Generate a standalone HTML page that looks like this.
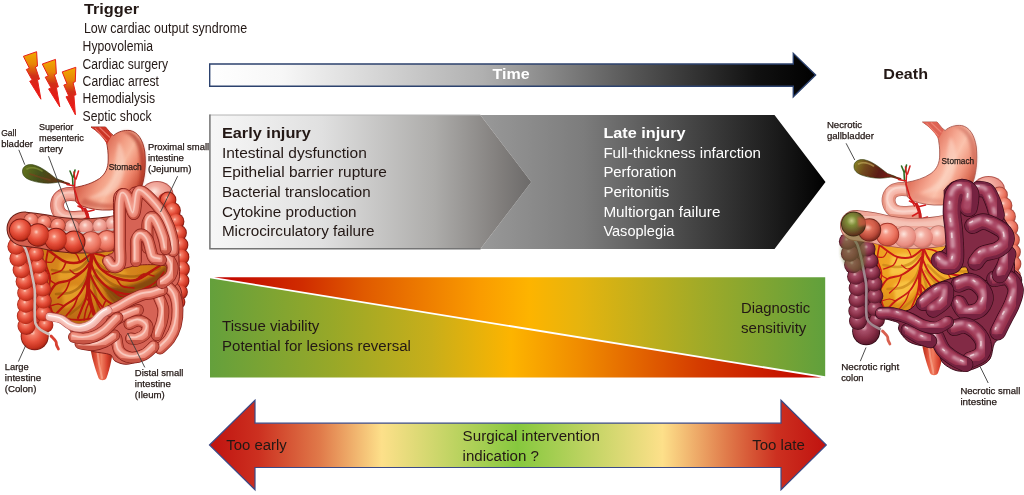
<!DOCTYPE html>
<html lang="en">
<head>
<meta charset="utf-8">
<title>Mesenteric ischemia timeline</title>
<style>
html,body{margin:0;padding:0;background:#fff;}
body{width:1024px;height:495px;overflow:hidden;}
svg{display:block;}
text{font-family:"Liberation Sans",sans-serif;}
.b{font-weight:bold;}
.t{fill:#231815;}
.w{fill:#fff;}
.lab{fill:#231815;stroke:#231815;stroke-width:0.25px;}
</style>
</head>
<body>
<svg width="1024" height="495" viewBox="0 0 1024 495">
<defs>
<linearGradient id="gTime" x1="209" x2="817" y1="0" y2="0" gradientUnits="userSpaceOnUse">
<stop offset="0" stop-color="#ffffff"/><stop offset="0.12" stop-color="#f7f7f7"/><stop offset="0.45" stop-color="#b0b0b0"/><stop offset="0.7" stop-color="#555"/><stop offset="0.9" stop-color="#111"/><stop offset="1" stop-color="#000"/>
</linearGradient>
<linearGradient id="gEarly" x1="209" x2="531" y1="0" y2="0" gradientUnits="userSpaceOnUse">
<stop offset="0" stop-color="#f7f7f7"/><stop offset="0.35" stop-color="#e0e0e0"/><stop offset="0.7" stop-color="#adacaa"/><stop offset="0.9" stop-color="#827f7d"/><stop offset="1" stop-color="#6c6a69"/>
</linearGradient>
<linearGradient id="gLate" x1="480" x2="826" y1="0" y2="0" gradientUnits="userSpaceOnUse">
<stop offset="0" stop-color="#999"/><stop offset="0.3" stop-color="#7c7c7c"/><stop offset="0.6" stop-color="#474747"/><stop offset="0.85" stop-color="#1c1c1c"/><stop offset="1" stop-color="#000"/>
</linearGradient>
<linearGradient id="gGR" x1="210" x2="825" y1="0" y2="0" gradientUnits="userSpaceOnUse">
<stop offset="0" stop-color="#64a03c"/><stop offset="0.2" stop-color="#98a828"/><stop offset="0.36" stop-color="#c8ae1a"/><stop offset="0.49" stop-color="#fdb400"/><stop offset="0.6" stop-color="#f08c00"/><stop offset="0.8" stop-color="#d43a00"/><stop offset="1" stop-color="#c00000"/>
</linearGradient>
<linearGradient id="gRG" x1="210" x2="825" y1="0" y2="0" gradientUnits="userSpaceOnUse">
<stop offset="0" stop-color="#c00000"/><stop offset="0.15" stop-color="#d02c00"/><stop offset="0.25" stop-color="#e05a00"/><stop offset="0.44" stop-color="#fa9c00"/><stop offset="0.52" stop-color="#fdb400"/><stop offset="0.6" stop-color="#e6b40e"/><stop offset="0.8" stop-color="#a0aa28"/><stop offset="1" stop-color="#60a03c"/>
</linearGradient>
<linearGradient id="gSurg" x1="209" x2="826" y1="0" y2="0" gradientUnits="userSpaceOnUse">
<stop offset="0" stop-color="#c0120f"/><stop offset="0.08" stop-color="#cc3020"/><stop offset="0.18" stop-color="#e07a4a"/><stop offset="0.28" stop-color="#fde08a"/><stop offset="0.5" stop-color="#86c83e"/><stop offset="0.735" stop-color="#fde08a"/><stop offset="0.84" stop-color="#e07a4a"/><stop offset="0.92" stop-color="#cc3020"/><stop offset="1" stop-color="#c0120f"/>
</linearGradient>
<radialGradient id="hR" cx="0.42" cy="0.36" r="0.7"><stop offset="0" stop-color="#fcd0c2"/><stop offset="0.16" stop-color="#f4826c"/><stop offset="0.5" stop-color="#e6503b"/><stop offset="0.82" stop-color="#c6321f"/><stop offset="1" stop-color="#8e1e12"/></radialGradient>
<radialGradient id="hPR" cx="0.42" cy="0.36" r="0.7"><stop offset="0" stop-color="#fddcd2"/><stop offset="0.22" stop-color="#f69a88"/><stop offset="0.65" stop-color="#ea705c"/><stop offset="1" stop-color="#c04836"/></radialGradient>
<radialGradient id="hP" cx="0.42" cy="0.36" r="0.7"><stop offset="0" stop-color="#fde6de"/><stop offset="0.3" stop-color="#f4b0a4"/><stop offset="0.75" stop-color="#e88c80"/><stop offset="1" stop-color="#c4665a"/></radialGradient>
<radialGradient id="hN" cx="0.42" cy="0.36" r="0.7"><stop offset="0" stop-color="#e0b0ba"/><stop offset="0.2" stop-color="#a8506a"/><stop offset="0.6" stop-color="#882e46"/><stop offset="1" stop-color="#501426"/></radialGradient>
<radialGradient id="hNg" cx="0.42" cy="0.36" r="0.7"><stop offset="0" stop-color="#c8cc88"/><stop offset="0.3" stop-color="#7e8c38"/><stop offset="0.65" stop-color="#6a5a2a"/><stop offset="1" stop-color="#5a2018"/></radialGradient>
<radialGradient id="hNr" cx="0.42" cy="0.36" r="0.7"><stop offset="0" stop-color="#f8c8b8"/><stop offset="0.3" stop-color="#e0705a"/><stop offset="0.7" stop-color="#b84838"/><stop offset="1" stop-color="#6a2018"/></radialGradient>
<radialGradient id="mes" cx="0.4" cy="0.3" r="0.8"><stop offset="0" stop-color="#e29422"/><stop offset="0.5" stop-color="#d07e18"/><stop offset="1" stop-color="#b05e0e"/></radialGradient>
<radialGradient id="mesR" cx="0.45" cy="0.3" r="0.8"><stop offset="0" stop-color="#f8bc3a"/><stop offset="0.5" stop-color="#eea020"/><stop offset="1" stop-color="#cc7e14"/></radialGradient>
<linearGradient id="stL" x1="100" y1="150" x2="147" y2="176" gradientUnits="userSpaceOnUse"><stop offset="0" stop-color="#da6650"/><stop offset="0.3" stop-color="#f29c82"/><stop offset="0.5" stop-color="#f8b69c"/><stop offset="0.72" stop-color="#ee866c"/><stop offset="0.9" stop-color="#d25a42"/><stop offset="1" stop-color="#ac3826"/></linearGradient>
<linearGradient id="stR" x1="100" y1="150" x2="147" y2="176" gradientUnits="userSpaceOnUse"><stop offset="0" stop-color="#e27660"/><stop offset="0.3" stop-color="#f6a892"/><stop offset="0.5" stop-color="#fbc2ac"/><stop offset="0.72" stop-color="#f29a82"/><stop offset="0.9" stop-color="#dc6e56"/><stop offset="1" stop-color="#b84a36"/></linearGradient>
<linearGradient id="gbL" x1="22" y1="166" x2="62" y2="184" gradientUnits="userSpaceOnUse"><stop offset="0" stop-color="#66761e"/><stop offset="0.45" stop-color="#44501a"/><stop offset="0.8" stop-color="#5a3a18"/><stop offset="1" stop-color="#74301a"/></linearGradient>
<linearGradient id="gbR" x1="22" y1="166" x2="62" y2="184" gradientUnits="userSpaceOnUse"><stop offset="0" stop-color="#8a8a28"/><stop offset="0.3" stop-color="#70481c"/><stop offset="0.65" stop-color="#5a1a14"/><stop offset="1" stop-color="#8a2418"/></linearGradient>
<linearGradient id="rec" x1="90" y1="0" x2="113" y2="0" gradientUnits="userSpaceOnUse"><stop offset="0" stop-color="#a82414"/><stop offset="0.28" stop-color="#e4553c"/><stop offset="0.5" stop-color="#f07c5e"/><stop offset="0.75" stop-color="#d8422e"/><stop offset="1" stop-color="#98200f"/></linearGradient>
<linearGradient id="bolt" x1="0" y1="52" x2="0" y2="100" gradientUnits="userSpaceOnUse"><stop offset="0" stop-color="#f0aa00"/><stop offset="0.25" stop-color="#e88608"/><stop offset="0.5" stop-color="#d03018"/><stop offset="0.7" stop-color="#e02018"/><stop offset="1" stop-color="#f41414"/></linearGradient>
<filter id="soft" x="-5%" y="-5%" width="110%" height="110%"><feGaussianBlur stdDeviation="0.6"/></filter>
<filter id="soft1" x="-10%" y="-10%" width="120%" height="120%"><feGaussianBlur stdDeviation="1"/></filter>
<filter id="soft2" x="-30%" y="-30%" width="160%" height="160%"><feGaussianBlur stdDeviation="1.6"/></filter>
</defs>

<!-- ===== illustrations ===== -->
<g id="organL">
<g filter="url(#soft)">
<path d="M42.0 246.0C47.0 241.0 60.3 249.3 70.0 250.0C79.7 250.7 91.0 250.7 100.0 250.0C109.0 249.3 119.7 244.0 124.0 246.0C128.3 248.0 121.7 259.3 126.0 262.0C130.3 264.7 142.7 261.3 150.0 262.0C157.3 262.7 166.3 260.3 170.0 266.0C173.7 271.7 175.3 288.3 172.0 296.0C168.7 303.7 158.7 307.7 150.0 312.0C141.3 316.3 130.0 320.0 120.0 322.0C110.0 324.0 99.7 324.0 90.0 324.0C80.3 324.0 69.3 324.0 62.0 322.0C54.7 320.0 49.7 319.0 46.0 312.0C42.3 305.0 40.7 291.0 40.0 280.0C39.3 269.0 37.0 251.0 42.0 246.0Z" fill="url(#mes)"/>
<path d="M104 286C124 290 150 282 168 264C166 284 150 302 122 308C112 304 106 296 104 286Z" fill="#7a400a" opacity="0.85" filter="url(#soft2)"/>
<path d="M60 262C70 256 82 258 86 266C80 276 68 282 58 280Z" fill="#eca82e" opacity="0.7" filter="url(#soft2)"/>
<path d="M62 290C72 284 80 284 84 290C80 300 72 308 64 308Z" fill="#eca82e" opacity="0.7" filter="url(#soft2)"/>
<path d="M100 262C112 262 122 268 128 274C118 278 106 274 100 268Z" fill="#eca82e" opacity="0.7" filter="url(#soft2)"/>
<path d="M90.0 258.0C88.3 259.7 84.0 265.7 80.0 268.0C76.0 270.3 70.7 271.7 66.0 272.0C61.3 272.3 54.3 270.3 52.0 270.0" fill="none" stroke="#9a560c" stroke-width="2.6" stroke-linecap="round" stroke-linejoin="round" opacity="0.6"/>
<path d="M90.0 266.0C89.0 268.7 87.0 277.7 84.0 282.0C81.0 286.3 76.7 290.0 72.0 292.0C67.3 294.0 58.7 293.7 56.0 294.0" fill="none" stroke="#9a560c" stroke-width="2.6" stroke-linecap="round" stroke-linejoin="round" opacity="0.6"/>
<path d="M90.0 274.0C89.7 277.0 89.3 287.0 88.0 292.0C86.7 297.0 85.0 300.3 82.0 304.0C79.0 307.7 72.0 312.3 70.0 314.0" fill="none" stroke="#9a560c" stroke-width="2.6" stroke-linecap="round" stroke-linejoin="round" opacity="0.6"/>
<path d="M92.0 280.0C92.7 282.7 95.0 291.3 96.0 296.0C97.0 300.7 97.7 304.3 98.0 308.0C98.3 311.7 98.0 316.3 98.0 318.0" fill="none" stroke="#9a560c" stroke-width="2.6" stroke-linecap="round" stroke-linejoin="round" opacity="0.6"/>
<path d="M94.0 276.0C96.0 278.3 102.3 286.0 106.0 290.0C109.7 294.0 113.0 297.0 116.0 300.0C119.0 303.0 122.7 306.7 124.0 308.0" fill="none" stroke="#9a560c" stroke-width="2.6" stroke-linecap="round" stroke-linejoin="round" opacity="0.6"/>
<path d="M96.0 270.0C98.7 272.3 105.7 280.7 112.0 284.0C118.3 287.3 127.3 289.7 134.0 290.0C140.7 290.3 149.0 286.7 152.0 286.0" fill="none" stroke="#9a560c" stroke-width="2.6" stroke-linecap="round" stroke-linejoin="round" opacity="0.6"/>
<path d="M96.0 262.0C99.0 264.0 107.0 271.7 114.0 274.0C121.0 276.3 130.3 277.0 138.0 276.0C145.7 275.0 156.3 269.3 160.0 268.0" fill="none" stroke="#9a560c" stroke-width="2.6" stroke-linecap="round" stroke-linejoin="round" opacity="0.6"/>
<path d="M89.0 240.0C89.5 242.2 91.8 248.3 92.0 253.0C92.2 257.7 90.7 262.8 90.0 268.0C89.3 273.2 88.0 278.7 88.0 284.0C88.0 289.3 89.0 295.0 90.0 300.0C91.0 305.0 93.3 311.7 94.0 314.0" fill="none" stroke="#b81410" stroke-width="3.8" stroke-linecap="round" stroke-linejoin="round"/>
<path d="M92.0 253.0C90.0 254.5 84.3 260.5 80.0 262.0C75.7 263.5 70.0 263.0 66.0 262.0C62.0 261.0 59.0 258.0 56.0 256.0C53.0 254.0 49.3 251.0 48.0 250.0" fill="none" stroke="#b81410" stroke-width="2.4" stroke-linecap="round" stroke-linejoin="round"/>
<path d="M90.0 262.0C89.0 263.3 87.3 267.0 84.0 270.0C80.7 273.0 74.7 277.7 70.0 280.0C65.3 282.3 59.7 281.3 56.0 284.0C52.3 286.7 49.3 294.0 48.0 296.0" fill="none" stroke="#b81410" stroke-width="2.4" stroke-linecap="round" stroke-linejoin="round"/>
<path d="M89.0 272.0C88.5 273.7 87.8 278.0 86.0 282.0C84.2 286.0 81.7 292.0 78.0 296.0C74.3 300.0 67.7 303.0 64.0 306.0C60.3 309.0 57.3 312.7 56.0 314.0" fill="none" stroke="#b81410" stroke-width="2.2" stroke-linecap="round" stroke-linejoin="round"/>
<path d="M88.0 284.0C87.7 286.3 87.0 294.0 86.0 298.0C85.0 302.0 83.3 304.7 82.0 308.0C80.7 311.3 78.7 316.3 78.0 318.0" fill="none" stroke="#b81410" stroke-width="2.1" stroke-linecap="round" stroke-linejoin="round"/>
<path d="M92.0 253.0C93.3 255.5 96.0 263.8 100.0 268.0C104.0 272.2 110.0 276.0 116.0 278.0C122.0 280.0 129.3 281.7 136.0 280.0C142.7 278.3 151.0 271.0 156.0 268.0C161.0 265.0 164.3 263.0 166.0 262.0" fill="none" stroke="#b81410" stroke-width="2.5" stroke-linecap="round" stroke-linejoin="round"/>
<path d="M91.0 264.0C92.2 266.3 94.5 273.7 98.0 278.0C101.5 282.3 106.3 287.3 112.0 290.0C117.7 292.7 125.7 294.7 132.0 294.0C138.3 293.3 147.0 287.3 150.0 286.0" fill="none" stroke="#b81410" stroke-width="2.4" stroke-linecap="round" stroke-linejoin="round"/>
<path d="M90.0 274.0C91.0 276.0 93.3 281.7 96.0 286.0C98.7 290.3 102.0 296.7 106.0 300.0C110.0 303.3 115.0 305.7 120.0 306.0C125.0 306.3 133.3 302.7 136.0 302.0" fill="none" stroke="#b81410" stroke-width="2.2" stroke-linecap="round" stroke-linejoin="round"/>
<path d="M90.0 290.0C91.7 292.3 97.0 300.0 100.0 304.0C103.0 308.0 106.0 311.3 108.0 314.0C110.0 316.7 111.3 319.0 112.0 320.0" fill="none" stroke="#b81410" stroke-width="2.0" stroke-linecap="round" stroke-linejoin="round"/>
<path d="M92.0 253.0C94.0 253.5 100.7 254.5 104.0 256.0C107.3 257.5 109.3 261.0 112.0 262.0C114.7 263.0 118.7 262.0 120.0 262.0" fill="none" stroke="#b81410" stroke-width="2.0" stroke-linecap="round" stroke-linejoin="round"/>
<path d="M66.0 262.0C65.3 263.3 64.3 268.0 62.0 270.0C59.7 272.0 53.7 273.3 52.0 274.0" fill="none" stroke="#b81410" stroke-width="1.6" stroke-linecap="round" stroke-linejoin="round"/>
<path d="M70.0 280.0C69.3 281.7 68.0 287.0 66.0 290.0C64.0 293.0 59.3 296.7 58.0 298.0" fill="none" stroke="#b81410" stroke-width="1.6" stroke-linecap="round" stroke-linejoin="round"/>
<path d="M78.0 296.0C77.3 297.7 76.0 302.7 74.0 306.0C72.0 309.3 67.3 314.3 66.0 316.0" fill="none" stroke="#b81410" stroke-width="1.6" stroke-linecap="round" stroke-linejoin="round"/>
<path d="M56.0 284.0C55.0 283.3 51.7 282.3 50.0 280.0C48.3 277.7 46.7 271.7 46.0 270.0" fill="none" stroke="#b81410" stroke-width="1.5" stroke-linecap="round" stroke-linejoin="round"/>
<path d="M64.0 306.0C63.0 305.7 60.3 304.0 58.0 304.0C55.7 304.0 51.3 305.7 50.0 306.0" fill="none" stroke="#b81410" stroke-width="1.5" stroke-linecap="round" stroke-linejoin="round"/>
<path d="M86.0 298.0C87.0 299.3 91.7 302.7 92.0 306.0C92.3 309.3 88.7 316.0 88.0 318.0" fill="none" stroke="#b81410" stroke-width="1.5" stroke-linecap="round" stroke-linejoin="round"/>
<path d="M106.0 300.0C105.3 301.7 102.3 306.7 102.0 310.0C101.7 313.3 103.7 318.3 104.0 320.0" fill="none" stroke="#b81410" stroke-width="1.5" stroke-linecap="round" stroke-linejoin="round"/>
<path d="M120.0 306.0C120.7 307.0 122.3 311.0 124.0 312.0C125.7 313.0 129.0 312.0 130.0 312.0" fill="none" stroke="#b81410" stroke-width="1.5" stroke-linecap="round" stroke-linejoin="round"/>
<path d="M116.0 278.0C117.0 279.3 119.0 284.3 122.0 286.0C125.0 287.7 132.0 287.7 134.0 288.0" fill="none" stroke="#b81410" stroke-width="1.5" stroke-linecap="round" stroke-linejoin="round"/>
<path d="M136.0 280.0C137.3 279.0 141.0 274.7 144.0 274.0C147.0 273.3 152.3 275.7 154.0 276.0" fill="none" stroke="#b81410" stroke-width="1.5" stroke-linecap="round" stroke-linejoin="round"/>
<path d="M132.0 294.0C133.3 294.7 137.3 297.7 140.0 298.0C142.7 298.3 146.7 296.3 148.0 296.0" fill="none" stroke="#b81410" stroke-width="1.5" stroke-linecap="round" stroke-linejoin="round"/>
<path d="M56.0 256.0C55.3 257.0 53.7 261.0 52.0 262.0C50.3 263.0 47.0 262.0 46.0 262.0" fill="none" stroke="#b81410" stroke-width="1.4" stroke-linecap="round" stroke-linejoin="round"/>
<path d="M80.0 262.0C79.3 260.7 78.0 255.7 76.0 254.0C74.0 252.3 69.3 252.3 68.0 252.0" fill="none" stroke="#b81410" stroke-width="1.4" stroke-linecap="round" stroke-linejoin="round"/>
<path d="M48.0 250.0C47.7 252.3 45.7 259.3 46.0 264.0C46.3 268.7 49.7 272.7 50.0 278.0C50.3 283.3 47.7 290.3 48.0 296.0C48.3 301.7 51.3 309.3 52.0 312.0" fill="none" stroke="#b81410" stroke-width="1.9" stroke-linecap="round" stroke-linejoin="round"/>
<path d="M52.0 312.0C54.0 313.0 59.3 316.7 64.0 318.0C68.7 319.3 74.7 320.0 80.0 320.0C85.3 320.0 90.7 318.3 96.0 318.0C101.3 317.7 109.3 318.0 112.0 318.0" fill="none" stroke="#b81410" stroke-width="1.8" stroke-linecap="round" stroke-linejoin="round"/>
<path d="M90.0 300.0C89.3 301.7 87.0 306.7 86.0 310.0C85.0 313.3 84.3 318.3 84.0 320.0" fill="none" stroke="#b81410" stroke-width="1.5" stroke-linecap="round" stroke-linejoin="round"/>
<path d="M94.0 296.0C95.0 298.0 98.0 304.3 100.0 308.0C102.0 311.7 105.0 316.3 106.0 318.0" fill="none" stroke="#b81410" stroke-width="1.5" stroke-linecap="round" stroke-linejoin="round"/>
<path d="M84.0 270.0C82.7 270.7 78.3 274.0 76.0 274.0C73.7 274.0 71.0 270.7 70.0 270.0" fill="none" stroke="#b81410" stroke-width="1.4" stroke-linecap="round" stroke-linejoin="round"/>
<path d="M100.0 268.0C101.3 268.7 105.7 271.7 108.0 272.0C110.3 272.3 113.0 270.3 114.0 270.0" fill="none" stroke="#b81410" stroke-width="1.4" stroke-linecap="round" stroke-linejoin="round"/>
<path d="M112.0 290.0C113.3 291.0 117.3 295.0 120.0 296.0C122.7 297.0 126.7 296.0 128.0 296.0" fill="none" stroke="#b81410" stroke-width="1.4" stroke-linecap="round" stroke-linejoin="round"/>
<path d="M150.0 286.0C151.3 285.0 155.7 282.3 158.0 280.0C160.3 277.7 163.0 273.3 164.0 272.0" fill="none" stroke="#b81410" stroke-width="1.5" stroke-linecap="round" stroke-linejoin="round"/>
<ellipse cx="157" cy="195" rx="16.5" ry="14" fill="#b4564e"/>
<ellipse cx="157" cy="195" rx="15.6" ry="13.1" fill="url(#hP)"/>
<path d="M165.0 200.0C165.8 201.8 168.2 206.9 169.5 210.5C170.8 214.1 172.0 217.8 173.0 221.5C174.0 225.2 174.8 229.1 175.5 233.0C176.2 236.9 176.6 241.0 177.0 245.0C177.4 249.0 177.8 253.0 178.0 257.0C178.2 261.0 178.5 265.0 178.5 269.0C178.5 273.0 178.2 277.2 178.0 281.0C177.8 284.8 177.5 288.5 177.0 292.0C176.5 295.5 175.3 300.3 175.0 302.0" fill="none" stroke="#cc3a2c" stroke-width="14.0" stroke-linecap="round" stroke-linejoin="round"/>
<circle cx="168.0" cy="200.0" r="8.4" fill="#8a1c14"/>
<circle cx="172.5" cy="210.5" r="8.4" fill="#8a1c14"/>
<circle cx="176.0" cy="221.5" r="8.4" fill="#8a1c14"/>
<circle cx="178.5" cy="233.0" r="8.4" fill="#8a1c14"/>
<circle cx="180.0" cy="245.0" r="8.4" fill="#8a1c14"/>
<circle cx="181.0" cy="257.0" r="8.4" fill="#8a1c14"/>
<circle cx="181.5" cy="269.0" r="8.4" fill="#8a1c14"/>
<circle cx="181.0" cy="281.0" r="8.4" fill="#8a1c14"/>
<circle cx="180.0" cy="292.0" r="7.9" fill="#8a1c14"/>
<circle cx="178.0" cy="302.0" r="7.4" fill="#8a1c14"/>
<circle cx="168.0" cy="200.0" r="7.5" fill="url(#hR)"/>
<circle cx="172.5" cy="210.5" r="7.5" fill="url(#hR)"/>
<circle cx="176.0" cy="221.5" r="7.5" fill="url(#hR)"/>
<circle cx="178.5" cy="233.0" r="7.5" fill="url(#hR)"/>
<circle cx="180.0" cy="245.0" r="7.5" fill="url(#hR)"/>
<circle cx="181.0" cy="257.0" r="7.5" fill="url(#hR)"/>
<circle cx="181.5" cy="269.0" r="7.5" fill="url(#hR)"/>
<circle cx="181.0" cy="281.0" r="7.5" fill="url(#hR)"/>
<circle cx="180.0" cy="292.0" r="7.0" fill="url(#hR)"/>
<circle cx="178.0" cy="302.0" r="6.5" fill="url(#hR)"/>
<path d="M82.0 195.0C80.0 194.8 73.3 193.8 70.0 194.0C66.7 194.2 64.1 194.7 62.0 196.0C59.9 197.3 58.2 199.7 57.5 202.0C56.8 204.3 57.1 207.7 58.0 210.0C58.9 212.3 60.7 214.7 63.0 216.0C65.3 217.3 67.8 217.8 72.0 218.0C76.2 218.2 85.3 217.2 88.0 217.0" fill="none" stroke="#b04a44" stroke-width="13.9" stroke-linecap="butt" stroke-linejoin="round"/>
<path d="M82.0 195.0C80.0 194.8 73.3 193.8 70.0 194.0C66.7 194.2 64.1 194.7 62.0 196.0C59.9 197.3 58.2 199.7 57.5 202.0C56.8 204.3 57.1 207.7 58.0 210.0C58.9 212.3 60.7 214.7 63.0 216.0C65.3 217.3 67.8 217.8 72.0 218.0C76.2 218.2 85.3 217.2 88.0 217.0" fill="none" stroke="#e08272" stroke-width="12.5" stroke-linecap="butt" stroke-linejoin="round"/>
<path d="M82.0 195.0C80.0 194.8 73.3 193.8 70.0 194.0C66.7 194.2 64.1 194.7 62.0 196.0C59.9 197.3 58.2 199.7 57.5 202.0C56.8 204.3 57.1 207.7 58.0 210.0C58.9 212.3 60.7 214.7 63.0 216.0C65.3 217.3 67.8 217.8 72.0 218.0C76.2 218.2 85.3 217.2 88.0 217.0" fill="none" stroke="#f0a090" stroke-width="9.8" stroke-linecap="butt" stroke-linejoin="round" transform="translate(-0.6 -0.6)" filter="url(#soft)"/>
<path d="M82.0 195.0C80.0 194.8 73.3 193.8 70.0 194.0C66.7 194.2 64.1 194.7 62.0 196.0C59.9 197.3 58.2 199.7 57.5 202.0C56.8 204.3 57.1 207.7 58.0 210.0C58.9 212.3 60.7 214.7 63.0 216.0C65.3 217.3 67.8 217.8 72.0 218.0C76.2 218.2 85.3 217.2 88.0 217.0" fill="none" stroke="#f6b4a6" stroke-width="5.8" stroke-linecap="butt" stroke-linejoin="round" transform="translate(-0.9 -1.0)" filter="url(#soft1)"/>
<path d="M82.0 195.0C80.0 194.8 73.3 193.8 70.0 194.0C66.7 194.2 64.1 194.7 62.0 196.0C59.9 197.3 58.2 199.7 57.5 202.0C56.8 204.3 57.1 207.7 58.0 210.0C58.9 212.3 60.7 214.7 63.0 216.0C65.3 217.3 67.8 217.8 72.0 218.0C76.2 218.2 85.3 217.2 88.0 217.0" fill="none" stroke="#f9c8bc" stroke-width="2.0" stroke-linecap="butt" stroke-linejoin="round" transform="translate(-1.3 -1.4)" opacity="0.9" filter="url(#soft)"/>
<path d="M91 127L105.5 127C109 131 111 134 113.6 135.5C118 131.5 124 130 130 130.5C138 132 143 140 144.8 152C146 165 145 180 140 191C134 202 122 209 110 210C100 210.5 90 209 82 206L76 202L74 187.5C84 186 93 183 99.5 178.5C105.5 174 108.2 168 108.2 160C108.4 153 107.5 147 106.4 141.8C103 136 97 131 91 127Z" fill="url(#stL)" stroke="#8e2a20" stroke-width="0.9"/>
<path d="M122 131C135 130 143 140 144.5 154C146 168 144 182 138 194C141.5 178 141 160 138 148C135 139 130 134 122 131Z" fill="#a62c1c" opacity="0.65" filter="url(#soft2)"/>
<path d="M80 204C92 209 108 210 124 205C112 205 98 204 84 198Z" fill="#c04a38" opacity="0.55" filter="url(#soft2)"/>
<path d="M119 142C126 152 127 170 120 184C113 195 100 199 88 198C102 193 111 185 114 172C116 160 116 150 119 142Z" fill="#fcdccc" opacity="0.5" filter="url(#soft2)"/>
<path d="M91 127L105.5 127C108 130 110 133 112 135L107 144C103 137 97 131 91 127Z" fill="#cc3426"/>
<path d="M95 128L107 141M99.5 127.5L110 137.5" stroke="#f08a7a" stroke-width="1.1" fill="none" opacity="0.8"/>
<path d="M56 180L69 184" fill="none" stroke="#7a2a18" stroke-width="2.0" stroke-linecap="round" stroke-linejoin="round"/>
<path d="M22.5 172C22 166 28 163.5 34 165C42 167 50 174 56 178.5L64 181.5L56 182.5C48 184 38 183 30 180C25 178 22.8 175.5 22.5 172Z" fill="url(#gbL)" stroke="#2e3a10" stroke-width="0.6"/>
<path d="M27 169C31 166.5 37 168 42 171" fill="none" stroke="#8a9a3a" stroke-width="1.6" stroke-linecap="round" stroke-linejoin="round" opacity="0.6" filter="url(#soft)"/>
<path d="M30 174C36 176 42 178 50 180" fill="none" stroke="#8a3a20" stroke-width="1.6" stroke-linecap="round" stroke-linejoin="round" opacity="0.5" filter="url(#soft)"/>
<path d="M70 171L72.5 177L73 186M75 170L73.5 177" fill="none" stroke="#2e6a24" stroke-width="1.6" stroke-linecap="round" stroke-linejoin="round"/>
<path d="M74 172L75 180L74.5 189L78 201L83 211M78.5 171L76 179M74.5 186L67 184.5" fill="none" stroke="#d41c1c" stroke-width="1.5" stroke-linecap="round" stroke-linejoin="round"/>
<path d="M78 203L83 208L88 214L89.5 224L89.5 238M84 209L78 206M86 212L94 210M88 217L81 221M89 224L96 222" fill="none" stroke="#d41c1c" stroke-width="1.6" stroke-linecap="round" stroke-linejoin="round"/>
<path d="M85 209L88.5 219L89.5 236" fill="none" stroke="#cc1a1a" stroke-width="3.0" stroke-linecap="round" stroke-linejoin="round"/>
<path d="M24.5 238.0C25.1 241.3 26.8 251.8 28.0 258.0C29.2 264.2 30.4 268.8 31.5 275.0C32.6 281.2 34.2 288.3 34.8 295.0C35.3 301.7 34.6 309.2 34.8 315.0C35.0 320.8 35.8 327.5 36.0 330.0" fill="none" stroke="#7a1810" stroke-width="30.0" stroke-linecap="butt" stroke-linejoin="round"/>
<path d="M24.5 238.0C25.1 241.3 26.8 251.8 28.0 258.0C29.2 264.2 30.4 268.8 31.5 275.0C32.6 281.2 34.2 288.3 34.8 295.0C35.3 301.7 34.6 309.2 34.8 315.0C35.0 320.8 35.8 327.5 36.0 330.0" fill="none" stroke="#cc3a2c" stroke-width="28.0" stroke-linecap="butt" stroke-linejoin="round"/>
<circle cx="34.7" cy="336.3" r="14" fill="#7a1810"/>
<circle cx="34.7" cy="336.3" r="13.2" fill="url(#hR)"/>
<circle cx="26.5" cy="326.0" r="9.0" fill="#a82a1c"/>
<circle cx="25.8" cy="316.0" r="9.0" fill="#a82a1c"/>
<circle cx="26.0" cy="304.5" r="9.0" fill="#a82a1c"/>
<circle cx="26.2" cy="293.0" r="9.0" fill="#a82a1c"/>
<circle cx="24.6" cy="281.5" r="9.0" fill="#a82a1c"/>
<circle cx="21.6" cy="270.0" r="9.0" fill="#a82a1c"/>
<circle cx="18.4" cy="258.5" r="9.0" fill="#a82a1c"/>
<circle cx="16.4" cy="246.5" r="9.0" fill="#a82a1c"/>
<circle cx="26.5" cy="326.0" r="8.3" fill="url(#hR)"/>
<circle cx="25.8" cy="316.0" r="8.3" fill="url(#hR)"/>
<circle cx="26.0" cy="304.5" r="8.3" fill="url(#hR)"/>
<circle cx="26.2" cy="293.0" r="8.3" fill="url(#hR)"/>
<circle cx="24.6" cy="281.5" r="8.3" fill="url(#hR)"/>
<circle cx="21.6" cy="270.0" r="8.3" fill="url(#hR)"/>
<circle cx="18.4" cy="258.5" r="8.3" fill="url(#hR)"/>
<circle cx="16.4" cy="246.5" r="8.3" fill="url(#hR)"/>
<circle cx="45.5" cy="325.0" r="7.9" fill="#a82a1c"/>
<circle cx="43.5" cy="313.5" r="8.3" fill="#a82a1c"/>
<circle cx="43.5" cy="301.0" r="8.3" fill="#a82a1c"/>
<circle cx="42.8" cy="289.0" r="8.3" fill="#a82a1c"/>
<circle cx="40.8" cy="277.5" r="8.3" fill="#a82a1c"/>
<circle cx="38.6" cy="266.0" r="8.3" fill="#a82a1c"/>
<circle cx="35.8" cy="254.0" r="8.3" fill="#a82a1c"/>
<circle cx="45.5" cy="325.0" r="7.2" fill="url(#hR)"/>
<circle cx="43.5" cy="313.5" r="7.6" fill="url(#hR)"/>
<circle cx="43.5" cy="301.0" r="7.6" fill="url(#hR)"/>
<circle cx="42.8" cy="289.0" r="7.6" fill="url(#hR)"/>
<circle cx="40.8" cy="277.5" r="7.6" fill="url(#hR)"/>
<circle cx="38.6" cy="266.0" r="7.6" fill="url(#hR)"/>
<circle cx="35.8" cy="254.0" r="7.6" fill="url(#hR)"/>
<path d="M19.5 240.5C20.5 241.9 24.0 245.6 25.6 249.0C27.2 252.4 28.1 256.7 29.2 261.0C30.3 265.3 31.1 270.2 32.0 275.0C32.9 279.8 34.2 284.2 34.7 290.0C35.2 295.8 34.6 304.4 34.7 310.0C34.8 315.6 34.5 320.3 35.5 323.6C36.5 326.9 38.8 328.3 41.0 330.0C43.2 331.7 47.2 333.3 48.5 334.0" fill="none" stroke="#cdbdb8" stroke-width="2.6" stroke-linecap="round" stroke-linejoin="round"/>
<path d="M51.0 336.0C51.8 336.9 54.9 339.9 55.8 341.4C56.7 342.9 56.1 343.7 56.5 345.0C56.9 346.3 58.1 348.3 58.4 349.0" fill="none" stroke="#d84030" stroke-width="2.8" stroke-linecap="round" stroke-linejoin="round"/>
<path d="M24.0 229.0C26.7 229.3 34.0 230.1 40.0 231.0C46.0 231.9 53.3 233.7 60.0 234.5C66.7 235.3 73.3 235.9 80.0 236.0C86.7 236.1 93.7 235.6 100.0 235.0C106.3 234.4 112.8 233.5 118.0 232.5C123.2 231.5 128.8 229.6 131.0 229.0" fill="none" stroke="#6a2019" stroke-width="35.0" stroke-linecap="round" stroke-linejoin="round"/>
<path d="M24.0 229.0C26.7 229.3 34.0 230.1 40.0 231.0C46.0 231.9 53.3 233.7 60.0 234.5C66.7 235.3 73.3 235.9 80.0 236.0C86.7 236.1 93.7 235.6 100.0 235.0C106.3 234.4 112.8 233.5 118.0 232.5C123.2 231.5 128.8 229.6 131.0 229.0" fill="none" stroke="#d4604f" stroke-width="33.0" stroke-linecap="round" stroke-linejoin="round"/>
<circle cx="125.0" cy="220.5" r="7.3" fill="#a8584e"/>
<circle cx="113.0" cy="223.5" r="7.7" fill="#a8584e"/>
<circle cx="100.0" cy="226.0" r="7.7" fill="#a8584e"/>
<circle cx="86.0" cy="227.0" r="7.7" fill="#a8584e"/>
<circle cx="72.0" cy="227.0" r="7.7" fill="#a8584e"/>
<circle cx="125.0" cy="220.5" r="6.6" fill="url(#hP)"/>
<circle cx="113.0" cy="223.5" r="7.0" fill="url(#hP)"/>
<circle cx="100.0" cy="226.0" r="7.0" fill="url(#hP)"/>
<circle cx="86.0" cy="227.0" r="7.0" fill="url(#hP)"/>
<circle cx="72.0" cy="227.0" r="7.0" fill="url(#hP)"/>
<circle cx="58.0" cy="225.5" r="7.7" fill="#93382e"/>
<circle cx="44.0" cy="222.5" r="7.7" fill="#93382e"/>
<circle cx="31.0" cy="220.5" r="7.7" fill="#93382e"/>
<circle cx="58.0" cy="225.5" r="7.0" fill="url(#hPR)"/>
<circle cx="44.0" cy="222.5" r="7.0" fill="url(#hPR)"/>
<circle cx="31.0" cy="220.5" r="7.0" fill="url(#hPR)"/>
<path d="M22.0 224.0C24.7 224.4 32.7 225.5 38.0 226.5C43.3 227.5 48.7 229.0 54.0 230.0C59.3 231.0 64.7 232.0 70.0 232.5C75.3 233.0 80.7 233.2 86.0 233.0C91.3 232.8 96.7 232.2 102.0 231.5C107.3 230.8 113.2 229.6 118.0 228.5C122.8 227.4 128.8 225.6 131.0 225.0" fill="none" stroke="#cfc0bc" stroke-width="2.0" stroke-linecap="round" stroke-linejoin="round" opacity="0.9"/>
<circle cx="132.0" cy="235.5" r="9.5" fill="#a8382c"/>
<circle cx="121.0" cy="238.5" r="10.3" fill="#a8382c"/>
<circle cx="107.0" cy="241.0" r="10.9" fill="#a8382c"/>
<circle cx="91.0" cy="242.5" r="11.3" fill="#a8382c"/>
<circle cx="132.0" cy="235.5" r="8.6" fill="url(#hPR)"/>
<circle cx="121.0" cy="238.5" r="9.4" fill="url(#hPR)"/>
<circle cx="107.0" cy="241.0" r="10.0" fill="url(#hPR)"/>
<circle cx="91.0" cy="242.5" r="10.4" fill="url(#hPR)"/>
<circle cx="74.0" cy="242.0" r="11.5" fill="#7a1810"/>
<circle cx="56.0" cy="239.5" r="11.7" fill="#7a1810"/>
<circle cx="38.0" cy="235.0" r="11.7" fill="#7a1810"/>
<circle cx="20.5" cy="230.0" r="11.5" fill="#7a1810"/>
<circle cx="74.0" cy="242.0" r="10.6" fill="url(#hR)"/>
<circle cx="56.0" cy="239.5" r="10.8" fill="url(#hR)"/>
<circle cx="38.0" cy="235.0" r="10.8" fill="url(#hR)"/>
<circle cx="20.5" cy="230.0" r="10.6" fill="url(#hR)"/>
<path d="M90 344L113 344C113 356 110 368 106.5 378C105 381 100 381 98.5 378C95 368 91 356 90 344Z" fill="url(#rec)"/>
<path d="M97 348C98 360 100 370 102 378" fill="none" stroke="#f8a890" stroke-width="2.0" stroke-linecap="round" stroke-linejoin="round" opacity="0.7" filter="url(#soft)"/>
<path d="M48.0 313.0C50.4 312.5 59.2 313.8 64.0 316.0C68.8 318.2 73.0 324.7 77.0 326.0C81.0 327.3 84.5 326.2 88.0 324.0C91.5 321.8 94.7 316.0 98.0 313.0C101.3 310.0 103.5 308.2 108.0 306.0C112.5 303.8 119.7 302.3 125.0 300.0C130.3 297.7 134.2 294.5 140.0 292.0C145.8 289.5 154.2 286.5 160.0 285.0C165.8 283.5 171.5 282.2 175.0 283.0C178.5 283.8 179.8 286.2 181.0 290.0C182.2 293.8 182.2 301.2 182.0 306.0C181.8 310.8 180.7 314.7 179.5 319.0C178.3 323.3 176.8 327.9 174.6 332.0C172.4 336.1 169.5 340.3 166.6 343.3C163.7 346.3 159.8 348.1 157.0 350.0C154.2 351.9 153.0 352.8 150.0 354.6C147.0 356.4 143.0 359.4 139.0 361.0C135.0 362.6 130.0 364.3 126.0 364.3C122.0 364.3 117.7 362.6 115.0 361.0C112.3 359.4 113.7 356.2 110.0 354.6C106.3 353.0 97.7 352.8 93.0 351.5C88.3 350.2 85.2 348.3 82.0 346.7C78.8 345.1 75.7 344.3 74.0 342.0C72.3 339.7 74.2 336.2 72.0 333.0C69.8 329.8 64.7 324.8 61.0 322.5C57.3 320.2 51.9 320.6 49.7 319.0C47.5 317.4 45.6 313.5 48.0 313.0Z" fill="#d66454" stroke="#86201a" stroke-width="1"/>
<path d="M113.5 200.0C113.8 194.5 114.6 193.9 116.0 192.0C117.4 190.1 120.0 188.7 122.0 188.5C124.0 188.3 126.2 191.2 128.0 191.0C129.8 190.8 130.5 188.1 133.0 187.5C135.5 186.9 139.0 185.4 143.0 187.5C147.0 189.6 152.5 195.1 157.0 200.0C161.5 204.9 166.8 211.7 170.0 217.0C173.2 222.3 174.6 227.0 176.0 232.0C177.4 237.0 178.0 242.0 178.5 247.0C179.0 252.0 178.9 256.5 179.0 262.0C179.1 267.5 180.2 275.7 179.0 280.0C177.8 284.3 174.3 287.8 172.0 288.0C169.7 288.2 165.8 284.3 165.0 281.0C164.2 277.7 167.8 270.7 167.0 268.0C166.2 265.3 164.5 265.5 160.0 265.0C155.5 264.5 145.7 264.5 140.0 265.0C134.3 265.5 130.0 267.2 126.0 268.0C122.0 268.8 119.3 270.3 116.0 270.0C112.7 269.7 108.2 267.7 106.0 266.0C103.8 264.3 102.7 261.8 103.0 260.0C103.3 258.2 106.2 256.7 108.0 255.0C109.8 253.3 113.0 255.0 114.0 250.0C115.0 245.0 114.1 233.3 114.0 225.0C113.9 216.7 113.2 205.5 113.5 200.0Z" fill="#d66454" stroke="#86201a" stroke-width="1"/>
<path d="M167.0 286.0C168.3 287.5 172.8 290.9 174.6 294.8C176.3 298.7 177.3 304.3 177.5 309.4C177.7 314.5 177.1 320.6 175.8 325.5C174.5 330.4 172.1 335.2 169.5 339.0C166.9 342.8 161.6 346.9 160.0 348.5" fill="none" stroke="#86201a" stroke-width="11.8" stroke-linecap="round" stroke-linejoin="round"/>
<path d="M167.0 286.0C168.3 287.5 172.8 290.9 174.6 294.8C176.3 298.7 177.3 304.3 177.5 309.4C177.7 314.5 177.1 320.6 175.8 325.5C174.5 330.4 172.1 335.2 169.5 339.0C166.9 342.8 161.6 346.9 160.0 348.5" fill="none" stroke="#c85545" stroke-width="10.4" stroke-linecap="round" stroke-linejoin="round"/>
<path d="M167.0 286.0C168.3 287.5 172.8 290.9 174.6 294.8C176.3 298.7 177.3 304.3 177.5 309.4C177.7 314.5 177.1 320.6 175.8 325.5C174.5 330.4 172.1 335.2 169.5 339.0C166.9 342.8 161.6 346.9 160.0 348.5" fill="none" stroke="#e98170" stroke-width="8.1" stroke-linecap="round" stroke-linejoin="round" transform="translate(-0.6 -0.6)" filter="url(#soft)"/>
<path d="M167.0 286.0C168.3 287.5 172.8 290.9 174.6 294.8C176.3 298.7 177.3 304.3 177.5 309.4C177.7 314.5 177.1 320.6 175.8 325.5C174.5 330.4 172.1 335.2 169.5 339.0C166.9 342.8 161.6 346.9 160.0 348.5" fill="none" stroke="#f3a292" stroke-width="4.8" stroke-linecap="round" stroke-linejoin="round" transform="translate(-0.9 -1.0)" filter="url(#soft1)"/>
<path d="M167.0 286.0C168.3 287.5 172.8 290.9 174.6 294.8C176.3 298.7 177.3 304.3 177.5 309.4C177.7 314.5 177.1 320.6 175.8 325.5C174.5 330.4 172.1 335.2 169.5 339.0C166.9 342.8 161.6 346.9 160.0 348.5" fill="none" stroke="#facdc2" stroke-width="1.7" stroke-linecap="round" stroke-linejoin="round" transform="translate(-1.3 -1.4)" opacity="0.9" filter="url(#soft)"/>
<path d="M158.5 296.5C159.3 298.6 162.8 305.1 163.3 309.4C163.8 313.7 162.8 318.0 161.7 322.3C160.6 326.6 157.6 333.1 156.8 335.2" fill="none" stroke="#86201a" stroke-width="11.8" stroke-linecap="round" stroke-linejoin="round"/>
<path d="M158.5 296.5C159.3 298.6 162.8 305.1 163.3 309.4C163.8 313.7 162.8 318.0 161.7 322.3C160.6 326.6 157.6 333.1 156.8 335.2" fill="none" stroke="#c85545" stroke-width="10.4" stroke-linecap="round" stroke-linejoin="round"/>
<path d="M158.5 296.5C159.3 298.6 162.8 305.1 163.3 309.4C163.8 313.7 162.8 318.0 161.7 322.3C160.6 326.6 157.6 333.1 156.8 335.2" fill="none" stroke="#e98170" stroke-width="8.1" stroke-linecap="round" stroke-linejoin="round" transform="translate(-0.6 -0.6)" filter="url(#soft)"/>
<path d="M158.5 296.5C159.3 298.6 162.8 305.1 163.3 309.4C163.8 313.7 162.8 318.0 161.7 322.3C160.6 326.6 157.6 333.1 156.8 335.2" fill="none" stroke="#f3a292" stroke-width="4.8" stroke-linecap="round" stroke-linejoin="round" transform="translate(-0.9 -1.0)" filter="url(#soft1)"/>
<path d="M158.5 296.5C159.3 298.6 162.8 305.1 163.3 309.4C163.8 313.7 162.8 318.0 161.7 322.3C160.6 326.6 157.6 333.1 156.8 335.2" fill="none" stroke="#facdc2" stroke-width="1.7" stroke-linecap="round" stroke-linejoin="round" transform="translate(-1.3 -1.4)" opacity="0.9" filter="url(#soft)"/>
<path d="M110.0 311.0C111.6 310.2 116.2 308.1 119.7 306.2C123.2 304.3 127.2 301.6 131.0 299.7C134.8 297.8 138.8 295.9 142.3 294.8C145.8 293.7 148.7 294.0 152.0 293.2C155.3 292.4 160.3 290.5 162.0 290.0" fill="none" stroke="#86201a" stroke-width="11.8" stroke-linecap="round" stroke-linejoin="round"/>
<path d="M110.0 311.0C111.6 310.2 116.2 308.1 119.7 306.2C123.2 304.3 127.2 301.6 131.0 299.7C134.8 297.8 138.8 295.9 142.3 294.8C145.8 293.7 148.7 294.0 152.0 293.2C155.3 292.4 160.3 290.5 162.0 290.0" fill="none" stroke="#c85545" stroke-width="10.4" stroke-linecap="round" stroke-linejoin="round"/>
<path d="M110.0 311.0C111.6 310.2 116.2 308.1 119.7 306.2C123.2 304.3 127.2 301.6 131.0 299.7C134.8 297.8 138.8 295.9 142.3 294.8C145.8 293.7 148.7 294.0 152.0 293.2C155.3 292.4 160.3 290.5 162.0 290.0" fill="none" stroke="#e98170" stroke-width="8.1" stroke-linecap="round" stroke-linejoin="round" transform="translate(-0.6 -0.6)" filter="url(#soft)"/>
<path d="M110.0 311.0C111.6 310.2 116.2 308.1 119.7 306.2C123.2 304.3 127.2 301.6 131.0 299.7C134.8 297.8 138.8 295.9 142.3 294.8C145.8 293.7 148.7 294.0 152.0 293.2C155.3 292.4 160.3 290.5 162.0 290.0" fill="none" stroke="#f3a292" stroke-width="4.8" stroke-linecap="round" stroke-linejoin="round" transform="translate(-0.9 -1.0)" filter="url(#soft1)"/>
<path d="M110.0 311.0C111.6 310.2 116.2 308.1 119.7 306.2C123.2 304.3 127.2 301.6 131.0 299.7C134.8 297.8 138.8 295.9 142.3 294.8C145.8 293.7 148.7 294.0 152.0 293.2C155.3 292.4 160.3 290.5 162.0 290.0" fill="none" stroke="#facdc2" stroke-width="1.7" stroke-linecap="round" stroke-linejoin="round" transform="translate(-1.3 -1.4)" opacity="0.9" filter="url(#soft)"/>
<path d="M111.6 322.3C112.9 321.5 117.0 318.9 119.7 317.5C122.4 316.1 124.8 315.4 127.8 314.2C130.8 312.9 136.3 310.7 138.0 310.0" fill="none" stroke="#86201a" stroke-width="11.8" stroke-linecap="round" stroke-linejoin="round"/>
<path d="M111.6 322.3C112.9 321.5 117.0 318.9 119.7 317.5C122.4 316.1 124.8 315.4 127.8 314.2C130.8 312.9 136.3 310.7 138.0 310.0" fill="none" stroke="#c85545" stroke-width="10.4" stroke-linecap="round" stroke-linejoin="round"/>
<path d="M111.6 322.3C112.9 321.5 117.0 318.9 119.7 317.5C122.4 316.1 124.8 315.4 127.8 314.2C130.8 312.9 136.3 310.7 138.0 310.0" fill="none" stroke="#e98170" stroke-width="8.1" stroke-linecap="round" stroke-linejoin="round" transform="translate(-0.6 -0.6)" filter="url(#soft)"/>
<path d="M111.6 322.3C112.9 321.5 117.0 318.9 119.7 317.5C122.4 316.1 124.8 315.4 127.8 314.2C130.8 312.9 136.3 310.7 138.0 310.0" fill="none" stroke="#f3a292" stroke-width="4.8" stroke-linecap="round" stroke-linejoin="round" transform="translate(-0.9 -1.0)" filter="url(#soft1)"/>
<path d="M111.6 322.3C112.9 321.5 117.0 318.9 119.7 317.5C122.4 316.1 124.8 315.4 127.8 314.2C130.8 312.9 136.3 310.7 138.0 310.0" fill="none" stroke="#facdc2" stroke-width="1.7" stroke-linecap="round" stroke-linejoin="round" transform="translate(-1.3 -1.4)" opacity="0.9" filter="url(#soft)"/>
<path d="M129.4 324.0C131.0 323.4 136.0 320.4 139.0 320.7C142.0 320.9 146.1 323.4 147.2 325.5C148.3 327.6 147.1 331.4 145.5 333.6C143.9 335.8 139.9 337.7 137.5 338.5C135.1 339.3 132.1 338.5 131.0 338.5" fill="none" stroke="#86201a" stroke-width="11.8" stroke-linecap="round" stroke-linejoin="round"/>
<path d="M129.4 324.0C131.0 323.4 136.0 320.4 139.0 320.7C142.0 320.9 146.1 323.4 147.2 325.5C148.3 327.6 147.1 331.4 145.5 333.6C143.9 335.8 139.9 337.7 137.5 338.5C135.1 339.3 132.1 338.5 131.0 338.5" fill="none" stroke="#c85545" stroke-width="10.4" stroke-linecap="round" stroke-linejoin="round"/>
<path d="M129.4 324.0C131.0 323.4 136.0 320.4 139.0 320.7C142.0 320.9 146.1 323.4 147.2 325.5C148.3 327.6 147.1 331.4 145.5 333.6C143.9 335.8 139.9 337.7 137.5 338.5C135.1 339.3 132.1 338.5 131.0 338.5" fill="none" stroke="#e98170" stroke-width="8.1" stroke-linecap="round" stroke-linejoin="round" transform="translate(-0.6 -0.6)" filter="url(#soft)"/>
<path d="M129.4 324.0C131.0 323.4 136.0 320.4 139.0 320.7C142.0 320.9 146.1 323.4 147.2 325.5C148.3 327.6 147.1 331.4 145.5 333.6C143.9 335.8 139.9 337.7 137.5 338.5C135.1 339.3 132.1 338.5 131.0 338.5" fill="none" stroke="#f3a292" stroke-width="4.8" stroke-linecap="round" stroke-linejoin="round" transform="translate(-0.9 -1.0)" filter="url(#soft1)"/>
<path d="M129.4 324.0C131.0 323.4 136.0 320.4 139.0 320.7C142.0 320.9 146.1 323.4 147.2 325.5C148.3 327.6 147.1 331.4 145.5 333.6C143.9 335.8 139.9 337.7 137.5 338.5C135.1 339.3 132.1 338.5 131.0 338.5" fill="none" stroke="#facdc2" stroke-width="1.7" stroke-linecap="round" stroke-linejoin="round" transform="translate(-1.3 -1.4)" opacity="0.9" filter="url(#soft)"/>
<path d="M116.5 338.5C117.0 340.6 117.3 348.2 119.7 351.4C122.1 354.6 127.0 357.0 131.0 357.5C135.1 358.0 140.2 356.4 144.0 354.6C147.8 352.8 152.0 347.9 153.6 346.5" fill="none" stroke="#86201a" stroke-width="11.8" stroke-linecap="round" stroke-linejoin="round"/>
<path d="M116.5 338.5C117.0 340.6 117.3 348.2 119.7 351.4C122.1 354.6 127.0 357.0 131.0 357.5C135.1 358.0 140.2 356.4 144.0 354.6C147.8 352.8 152.0 347.9 153.6 346.5" fill="none" stroke="#c85545" stroke-width="10.4" stroke-linecap="round" stroke-linejoin="round"/>
<path d="M116.5 338.5C117.0 340.6 117.3 348.2 119.7 351.4C122.1 354.6 127.0 357.0 131.0 357.5C135.1 358.0 140.2 356.4 144.0 354.6C147.8 352.8 152.0 347.9 153.6 346.5" fill="none" stroke="#e98170" stroke-width="8.1" stroke-linecap="round" stroke-linejoin="round" transform="translate(-0.6 -0.6)" filter="url(#soft)"/>
<path d="M116.5 338.5C117.0 340.6 117.3 348.2 119.7 351.4C122.1 354.6 127.0 357.0 131.0 357.5C135.1 358.0 140.2 356.4 144.0 354.6C147.8 352.8 152.0 347.9 153.6 346.5" fill="none" stroke="#f3a292" stroke-width="4.8" stroke-linecap="round" stroke-linejoin="round" transform="translate(-0.9 -1.0)" filter="url(#soft1)"/>
<path d="M116.5 338.5C117.0 340.6 117.3 348.2 119.7 351.4C122.1 354.6 127.0 357.0 131.0 357.5C135.1 358.0 140.2 356.4 144.0 354.6C147.8 352.8 152.0 347.9 153.6 346.5" fill="none" stroke="#facdc2" stroke-width="1.7" stroke-linecap="round" stroke-linejoin="round" transform="translate(-1.3 -1.4)" opacity="0.9" filter="url(#soft)"/>
<path d="M80.4 343.5C82.6 343.8 89.3 345.3 93.3 345.0C97.3 344.7 101.1 343.4 104.6 341.8C108.1 340.2 112.7 336.5 114.3 335.4" fill="none" stroke="#86201a" stroke-width="11.8" stroke-linecap="round" stroke-linejoin="round"/>
<path d="M80.4 343.5C82.6 343.8 89.3 345.3 93.3 345.0C97.3 344.7 101.1 343.4 104.6 341.8C108.1 340.2 112.7 336.5 114.3 335.4" fill="none" stroke="#c85545" stroke-width="10.4" stroke-linecap="round" stroke-linejoin="round"/>
<path d="M80.4 343.5C82.6 343.8 89.3 345.3 93.3 345.0C97.3 344.7 101.1 343.4 104.6 341.8C108.1 340.2 112.7 336.5 114.3 335.4" fill="none" stroke="#e98170" stroke-width="8.1" stroke-linecap="round" stroke-linejoin="round" transform="translate(-0.6 -0.6)" filter="url(#soft)"/>
<path d="M80.4 343.5C82.6 343.8 89.3 345.3 93.3 345.0C97.3 344.7 101.1 343.4 104.6 341.8C108.1 340.2 112.7 336.5 114.3 335.4" fill="none" stroke="#f3a292" stroke-width="4.8" stroke-linecap="round" stroke-linejoin="round" transform="translate(-0.9 -1.0)" filter="url(#soft1)"/>
<path d="M80.4 343.5C82.6 343.8 89.3 345.3 93.3 345.0C97.3 344.7 101.1 343.4 104.6 341.8C108.1 340.2 112.7 336.5 114.3 335.4" fill="none" stroke="#facdc2" stroke-width="1.7" stroke-linecap="round" stroke-linejoin="round" transform="translate(-1.3 -1.4)" opacity="0.9" filter="url(#soft)"/>
<path d="M73.9 337.0C75.5 337.3 80.1 338.7 83.6 338.6C87.1 338.5 91.4 337.6 94.9 336.2C98.4 334.8 101.6 332.8 104.6 330.5C107.6 328.2 110.5 324.6 112.7 322.5C114.9 320.4 116.7 318.4 117.5 317.6" fill="none" stroke="#86201a" stroke-width="11.8" stroke-linecap="round" stroke-linejoin="round"/>
<path d="M73.9 337.0C75.5 337.3 80.1 338.7 83.6 338.6C87.1 338.5 91.4 337.6 94.9 336.2C98.4 334.8 101.6 332.8 104.6 330.5C107.6 328.2 110.5 324.6 112.7 322.5C114.9 320.4 116.7 318.4 117.5 317.6" fill="none" stroke="#c85545" stroke-width="10.4" stroke-linecap="round" stroke-linejoin="round"/>
<path d="M73.9 337.0C75.5 337.3 80.1 338.7 83.6 338.6C87.1 338.5 91.4 337.6 94.9 336.2C98.4 334.8 101.6 332.8 104.6 330.5C107.6 328.2 110.5 324.6 112.7 322.5C114.9 320.4 116.7 318.4 117.5 317.6" fill="none" stroke="#e98170" stroke-width="8.1" stroke-linecap="round" stroke-linejoin="round" transform="translate(-0.6 -0.6)" filter="url(#soft)"/>
<path d="M73.9 337.0C75.5 337.3 80.1 338.7 83.6 338.6C87.1 338.5 91.4 337.6 94.9 336.2C98.4 334.8 101.6 332.8 104.6 330.5C107.6 328.2 110.5 324.6 112.7 322.5C114.9 320.4 116.7 318.4 117.5 317.6" fill="none" stroke="#f3a292" stroke-width="4.8" stroke-linecap="round" stroke-linejoin="round" transform="translate(-0.9 -1.0)" filter="url(#soft1)"/>
<path d="M73.9 337.0C75.5 337.3 80.1 338.7 83.6 338.6C87.1 338.5 91.4 337.6 94.9 336.2C98.4 334.8 101.6 332.8 104.6 330.5C107.6 328.2 110.5 324.6 112.7 322.5C114.9 320.4 116.7 318.4 117.5 317.6" fill="none" stroke="#facdc2" stroke-width="1.7" stroke-linecap="round" stroke-linejoin="round" transform="translate(-1.3 -1.4)" opacity="0.9" filter="url(#soft)"/>
<path d="M49.7 316.8C51.6 317.2 57.5 317.7 61.0 319.2C64.5 320.7 67.5 324.2 70.7 325.7C73.9 327.2 76.9 328.3 80.4 328.0C83.9 327.7 88.2 326.3 91.7 324.0C95.2 321.7 98.7 316.7 101.4 314.4C104.1 312.1 106.8 311.0 107.9 310.3" fill="none" stroke="#b85a56" stroke-width="9.0" stroke-linecap="round" stroke-linejoin="round"/>
<path d="M49.7 316.8C51.6 317.2 57.5 317.7 61.0 319.2C64.5 320.7 67.5 324.2 70.7 325.7C73.9 327.2 76.9 328.3 80.4 328.0C83.9 327.7 88.2 326.3 91.7 324.0C95.2 321.7 98.7 316.7 101.4 314.4C104.1 312.1 106.8 311.0 107.9 310.3" fill="none" stroke="#f4b4aa" stroke-width="7.6" stroke-linecap="round" stroke-linejoin="round"/>
<path d="M49.7 316.8C51.6 317.2 57.5 317.7 61.0 319.2C64.5 320.7 67.5 324.2 70.7 325.7C73.9 327.2 76.9 328.3 80.4 328.0C83.9 327.7 88.2 326.3 91.7 324.0C95.2 321.7 98.7 316.7 101.4 314.4C104.1 312.1 106.8 311.0 107.9 310.3" fill="none" stroke="#f4b4aa" stroke-width="5.9" stroke-linecap="round" stroke-linejoin="round" transform="translate(-0.6 -0.6)" filter="url(#soft)"/>
<path d="M49.7 316.8C51.6 317.2 57.5 317.7 61.0 319.2C64.5 320.7 67.5 324.2 70.7 325.7C73.9 327.2 76.9 328.3 80.4 328.0C83.9 327.7 88.2 326.3 91.7 324.0C95.2 321.7 98.7 316.7 101.4 314.4C104.1 312.1 106.8 311.0 107.9 310.3" fill="none" stroke="#fbd8d2" stroke-width="3.5" stroke-linecap="round" stroke-linejoin="round" transform="translate(-0.9 -1.0)" filter="url(#soft1)"/>
<path d="M49.7 316.8C51.6 317.2 57.5 317.7 61.0 319.2C64.5 320.7 67.5 324.2 70.7 325.7C73.9 327.2 76.9 328.3 80.4 328.0C83.9 327.7 88.2 326.3 91.7 324.0C95.2 321.7 98.7 316.7 101.4 314.4C104.1 312.1 106.8 311.0 107.9 310.3" fill="none" stroke="#ffffff" stroke-width="1.2" stroke-linecap="round" stroke-linejoin="round" transform="translate(-1.3 -1.4)" opacity="0.9" filter="url(#soft)"/>
<path d="M168.0 258.0C168.8 259.3 172.1 263.0 172.5 266.0C172.9 269.0 172.2 273.2 170.5 276.0C168.8 278.8 163.4 281.8 162.0 283.0" fill="none" stroke="#86201a" stroke-width="11.8" stroke-linecap="round" stroke-linejoin="round"/>
<path d="M168.0 258.0C168.8 259.3 172.1 263.0 172.5 266.0C172.9 269.0 172.2 273.2 170.5 276.0C168.8 278.8 163.4 281.8 162.0 283.0" fill="none" stroke="#c85545" stroke-width="10.4" stroke-linecap="round" stroke-linejoin="round"/>
<path d="M168.0 258.0C168.8 259.3 172.1 263.0 172.5 266.0C172.9 269.0 172.2 273.2 170.5 276.0C168.8 278.8 163.4 281.8 162.0 283.0" fill="none" stroke="#e98170" stroke-width="8.1" stroke-linecap="round" stroke-linejoin="round" transform="translate(-0.6 -0.6)" filter="url(#soft)"/>
<path d="M168.0 258.0C168.8 259.3 172.1 263.0 172.5 266.0C172.9 269.0 172.2 273.2 170.5 276.0C168.8 278.8 163.4 281.8 162.0 283.0" fill="none" stroke="#f3a292" stroke-width="4.8" stroke-linecap="round" stroke-linejoin="round" transform="translate(-0.9 -1.0)" filter="url(#soft1)"/>
<path d="M168.0 258.0C168.8 259.3 172.1 263.0 172.5 266.0C172.9 269.0 172.2 273.2 170.5 276.0C168.8 278.8 163.4 281.8 162.0 283.0" fill="none" stroke="#facdc2" stroke-width="1.7" stroke-linecap="round" stroke-linejoin="round" transform="translate(-1.3 -1.4)" opacity="0.9" filter="url(#soft)"/>
<path d="M108.0 261.0C108.8 262.0 111.0 266.5 113.0 267.0C115.0 267.5 118.8 267.7 120.0 264.0C121.2 260.3 120.0 252.3 120.0 245.0C120.0 237.7 120.0 227.0 120.0 220.0C120.0 213.0 119.9 207.2 120.3 203.0C120.7 198.8 121.2 195.5 122.4 194.5C123.6 193.5 125.6 193.8 127.5 197.0C129.4 200.2 132.3 214.5 134.0 214.0C135.7 213.5 136.2 197.8 137.5 194.0C138.8 190.2 139.8 190.8 142.0 191.5C144.2 192.2 147.3 195.2 150.5 198.5C153.7 201.8 157.9 206.2 161.0 211.0C164.1 215.8 167.0 221.9 169.0 227.0C171.0 232.1 172.3 237.5 173.0 241.5C173.7 245.5 173.2 249.4 173.2 251.0" fill="none" stroke="#86201a" stroke-width="11.8" stroke-linecap="round" stroke-linejoin="round"/>
<path d="M108.0 261.0C108.8 262.0 111.0 266.5 113.0 267.0C115.0 267.5 118.8 267.7 120.0 264.0C121.2 260.3 120.0 252.3 120.0 245.0C120.0 237.7 120.0 227.0 120.0 220.0C120.0 213.0 119.9 207.2 120.3 203.0C120.7 198.8 121.2 195.5 122.4 194.5C123.6 193.5 125.6 193.8 127.5 197.0C129.4 200.2 132.3 214.5 134.0 214.0C135.7 213.5 136.2 197.8 137.5 194.0C138.8 190.2 139.8 190.8 142.0 191.5C144.2 192.2 147.3 195.2 150.5 198.5C153.7 201.8 157.9 206.2 161.0 211.0C164.1 215.8 167.0 221.9 169.0 227.0C171.0 232.1 172.3 237.5 173.0 241.5C173.7 245.5 173.2 249.4 173.2 251.0" fill="none" stroke="#c85545" stroke-width="10.4" stroke-linecap="round" stroke-linejoin="round"/>
<path d="M108.0 261.0C108.8 262.0 111.0 266.5 113.0 267.0C115.0 267.5 118.8 267.7 120.0 264.0C121.2 260.3 120.0 252.3 120.0 245.0C120.0 237.7 120.0 227.0 120.0 220.0C120.0 213.0 119.9 207.2 120.3 203.0C120.7 198.8 121.2 195.5 122.4 194.5C123.6 193.5 125.6 193.8 127.5 197.0C129.4 200.2 132.3 214.5 134.0 214.0C135.7 213.5 136.2 197.8 137.5 194.0C138.8 190.2 139.8 190.8 142.0 191.5C144.2 192.2 147.3 195.2 150.5 198.5C153.7 201.8 157.9 206.2 161.0 211.0C164.1 215.8 167.0 221.9 169.0 227.0C171.0 232.1 172.3 237.5 173.0 241.5C173.7 245.5 173.2 249.4 173.2 251.0" fill="none" stroke="#e98170" stroke-width="8.1" stroke-linecap="round" stroke-linejoin="round" transform="translate(-0.6 -0.6)" filter="url(#soft)"/>
<path d="M108.0 261.0C108.8 262.0 111.0 266.5 113.0 267.0C115.0 267.5 118.8 267.7 120.0 264.0C121.2 260.3 120.0 252.3 120.0 245.0C120.0 237.7 120.0 227.0 120.0 220.0C120.0 213.0 119.9 207.2 120.3 203.0C120.7 198.8 121.2 195.5 122.4 194.5C123.6 193.5 125.6 193.8 127.5 197.0C129.4 200.2 132.3 214.5 134.0 214.0C135.7 213.5 136.2 197.8 137.5 194.0C138.8 190.2 139.8 190.8 142.0 191.5C144.2 192.2 147.3 195.2 150.5 198.5C153.7 201.8 157.9 206.2 161.0 211.0C164.1 215.8 167.0 221.9 169.0 227.0C171.0 232.1 172.3 237.5 173.0 241.5C173.7 245.5 173.2 249.4 173.2 251.0" fill="none" stroke="#f3a292" stroke-width="4.8" stroke-linecap="round" stroke-linejoin="round" transform="translate(-0.9 -1.0)" filter="url(#soft1)"/>
<path d="M108.0 261.0C108.8 262.0 111.0 266.5 113.0 267.0C115.0 267.5 118.8 267.7 120.0 264.0C121.2 260.3 120.0 252.3 120.0 245.0C120.0 237.7 120.0 227.0 120.0 220.0C120.0 213.0 119.9 207.2 120.3 203.0C120.7 198.8 121.2 195.5 122.4 194.5C123.6 193.5 125.6 193.8 127.5 197.0C129.4 200.2 132.3 214.5 134.0 214.0C135.7 213.5 136.2 197.8 137.5 194.0C138.8 190.2 139.8 190.8 142.0 191.5C144.2 192.2 147.3 195.2 150.5 198.5C153.7 201.8 157.9 206.2 161.0 211.0C164.1 215.8 167.0 221.9 169.0 227.0C171.0 232.1 172.3 237.5 173.0 241.5C173.7 245.5 173.2 249.4 173.2 251.0" fill="none" stroke="#facdc2" stroke-width="1.7" stroke-linecap="round" stroke-linejoin="round" transform="translate(-1.3 -1.4)" opacity="0.9" filter="url(#soft)"/>
<path d="M147.5 248.0C147.5 245.7 147.5 238.2 147.5 234.0C147.5 229.8 146.8 225.8 147.5 223.0C148.2 220.2 150.3 217.0 152.0 217.0C153.7 217.0 155.6 219.5 157.5 223.0C159.4 226.5 162.1 233.7 163.5 238.0C164.9 242.3 165.4 247.2 165.8 249.0" fill="none" stroke="#86201a" stroke-width="11.8" stroke-linecap="round" stroke-linejoin="round"/>
<path d="M147.5 248.0C147.5 245.7 147.5 238.2 147.5 234.0C147.5 229.8 146.8 225.8 147.5 223.0C148.2 220.2 150.3 217.0 152.0 217.0C153.7 217.0 155.6 219.5 157.5 223.0C159.4 226.5 162.1 233.7 163.5 238.0C164.9 242.3 165.4 247.2 165.8 249.0" fill="none" stroke="#c85545" stroke-width="10.4" stroke-linecap="round" stroke-linejoin="round"/>
<path d="M147.5 248.0C147.5 245.7 147.5 238.2 147.5 234.0C147.5 229.8 146.8 225.8 147.5 223.0C148.2 220.2 150.3 217.0 152.0 217.0C153.7 217.0 155.6 219.5 157.5 223.0C159.4 226.5 162.1 233.7 163.5 238.0C164.9 242.3 165.4 247.2 165.8 249.0" fill="none" stroke="#e98170" stroke-width="8.1" stroke-linecap="round" stroke-linejoin="round" transform="translate(-0.6 -0.6)" filter="url(#soft)"/>
<path d="M147.5 248.0C147.5 245.7 147.5 238.2 147.5 234.0C147.5 229.8 146.8 225.8 147.5 223.0C148.2 220.2 150.3 217.0 152.0 217.0C153.7 217.0 155.6 219.5 157.5 223.0C159.4 226.5 162.1 233.7 163.5 238.0C164.9 242.3 165.4 247.2 165.8 249.0" fill="none" stroke="#f3a292" stroke-width="4.8" stroke-linecap="round" stroke-linejoin="round" transform="translate(-0.9 -1.0)" filter="url(#soft1)"/>
<path d="M147.5 248.0C147.5 245.7 147.5 238.2 147.5 234.0C147.5 229.8 146.8 225.8 147.5 223.0C148.2 220.2 150.3 217.0 152.0 217.0C153.7 217.0 155.6 219.5 157.5 223.0C159.4 226.5 162.1 233.7 163.5 238.0C164.9 242.3 165.4 247.2 165.8 249.0" fill="none" stroke="#facdc2" stroke-width="1.7" stroke-linecap="round" stroke-linejoin="round" transform="translate(-1.3 -1.4)" opacity="0.9" filter="url(#soft)"/>
<path d="M136.0 261.0C136.0 259.0 136.0 252.5 136.0 249.0C136.0 245.5 135.4 242.4 136.2 240.0C137.0 237.6 139.1 234.6 141.0 234.5C142.9 234.4 145.8 236.8 147.5 239.5C149.2 242.2 150.0 247.9 151.0 251.0C152.0 254.1 151.8 256.5 153.5 258.0C155.2 259.5 159.8 259.7 161.0 260.0" fill="none" stroke="#86201a" stroke-width="11.8" stroke-linecap="round" stroke-linejoin="round"/>
<path d="M136.0 261.0C136.0 259.0 136.0 252.5 136.0 249.0C136.0 245.5 135.4 242.4 136.2 240.0C137.0 237.6 139.1 234.6 141.0 234.5C142.9 234.4 145.8 236.8 147.5 239.5C149.2 242.2 150.0 247.9 151.0 251.0C152.0 254.1 151.8 256.5 153.5 258.0C155.2 259.5 159.8 259.7 161.0 260.0" fill="none" stroke="#c85545" stroke-width="10.4" stroke-linecap="round" stroke-linejoin="round"/>
<path d="M136.0 261.0C136.0 259.0 136.0 252.5 136.0 249.0C136.0 245.5 135.4 242.4 136.2 240.0C137.0 237.6 139.1 234.6 141.0 234.5C142.9 234.4 145.8 236.8 147.5 239.5C149.2 242.2 150.0 247.9 151.0 251.0C152.0 254.1 151.8 256.5 153.5 258.0C155.2 259.5 159.8 259.7 161.0 260.0" fill="none" stroke="#e98170" stroke-width="8.1" stroke-linecap="round" stroke-linejoin="round" transform="translate(-0.6 -0.6)" filter="url(#soft)"/>
<path d="M136.0 261.0C136.0 259.0 136.0 252.5 136.0 249.0C136.0 245.5 135.4 242.4 136.2 240.0C137.0 237.6 139.1 234.6 141.0 234.5C142.9 234.4 145.8 236.8 147.5 239.5C149.2 242.2 150.0 247.9 151.0 251.0C152.0 254.1 151.8 256.5 153.5 258.0C155.2 259.5 159.8 259.7 161.0 260.0" fill="none" stroke="#f3a292" stroke-width="4.8" stroke-linecap="round" stroke-linejoin="round" transform="translate(-0.9 -1.0)" filter="url(#soft1)"/>
<path d="M136.0 261.0C136.0 259.0 136.0 252.5 136.0 249.0C136.0 245.5 135.4 242.4 136.2 240.0C137.0 237.6 139.1 234.6 141.0 234.5C142.9 234.4 145.8 236.8 147.5 239.5C149.2 242.2 150.0 247.9 151.0 251.0C152.0 254.1 151.8 256.5 153.5 258.0C155.2 259.5 159.8 259.7 161.0 260.0" fill="none" stroke="#facdc2" stroke-width="1.7" stroke-linecap="round" stroke-linejoin="round" transform="translate(-1.3 -1.4)" opacity="0.9" filter="url(#soft)"/>
</g>
</g>
<g id="organR" transform="translate(831.5 -5)">
<g filter="url(#soft)">
<path d="M42.0 246.0C47.0 241.0 60.3 249.3 70.0 250.0C79.7 250.7 91.0 250.7 100.0 250.0C109.0 249.3 119.7 244.0 124.0 246.0C128.3 248.0 121.7 259.3 126.0 262.0C130.3 264.7 142.7 261.3 150.0 262.0C157.3 262.7 166.3 260.3 170.0 266.0C173.7 271.7 175.3 288.3 172.0 296.0C168.7 303.7 158.7 307.7 150.0 312.0C141.3 316.3 130.0 320.0 120.0 322.0C110.0 324.0 99.7 324.0 90.0 324.0C80.3 324.0 69.3 324.0 62.0 322.0C54.7 320.0 49.7 319.0 46.0 312.0C42.3 305.0 40.7 291.0 40.0 280.0C39.3 269.0 37.0 251.0 42.0 246.0Z" fill="url(#mesR)"/>
<path d="M104 286C124 290 150 282 168 264C166 284 150 302 122 308C112 304 106 296 104 286Z" fill="#b06810" opacity="0.5" filter="url(#soft2)"/>
<path d="M60 262C70 256 82 258 86 266C80 276 68 282 58 280Z" fill="#fcd050" opacity="0.7" filter="url(#soft2)"/>
<path d="M62 290C72 284 80 284 84 290C80 300 72 308 64 308Z" fill="#fcd050" opacity="0.7" filter="url(#soft2)"/>
<path d="M100 262C112 262 122 268 128 274C118 278 106 274 100 268Z" fill="#fcd050" opacity="0.7" filter="url(#soft2)"/>
<path d="M90.0 258.0C88.3 259.7 84.0 265.7 80.0 268.0C76.0 270.3 70.7 271.7 66.0 272.0C61.3 272.3 54.3 270.3 52.0 270.0" fill="none" stroke="#c07c14" stroke-width="2.6" stroke-linecap="round" stroke-linejoin="round" opacity="0.6"/>
<path d="M90.0 266.0C89.0 268.7 87.0 277.7 84.0 282.0C81.0 286.3 76.7 290.0 72.0 292.0C67.3 294.0 58.7 293.7 56.0 294.0" fill="none" stroke="#c07c14" stroke-width="2.6" stroke-linecap="round" stroke-linejoin="round" opacity="0.6"/>
<path d="M90.0 274.0C89.7 277.0 89.3 287.0 88.0 292.0C86.7 297.0 85.0 300.3 82.0 304.0C79.0 307.7 72.0 312.3 70.0 314.0" fill="none" stroke="#c07c14" stroke-width="2.6" stroke-linecap="round" stroke-linejoin="round" opacity="0.6"/>
<path d="M92.0 280.0C92.7 282.7 95.0 291.3 96.0 296.0C97.0 300.7 97.7 304.3 98.0 308.0C98.3 311.7 98.0 316.3 98.0 318.0" fill="none" stroke="#c07c14" stroke-width="2.6" stroke-linecap="round" stroke-linejoin="round" opacity="0.6"/>
<path d="M94.0 276.0C96.0 278.3 102.3 286.0 106.0 290.0C109.7 294.0 113.0 297.0 116.0 300.0C119.0 303.0 122.7 306.7 124.0 308.0" fill="none" stroke="#c07c14" stroke-width="2.6" stroke-linecap="round" stroke-linejoin="round" opacity="0.6"/>
<path d="M96.0 270.0C98.7 272.3 105.7 280.7 112.0 284.0C118.3 287.3 127.3 289.7 134.0 290.0C140.7 290.3 149.0 286.7 152.0 286.0" fill="none" stroke="#c07c14" stroke-width="2.6" stroke-linecap="round" stroke-linejoin="round" opacity="0.6"/>
<path d="M96.0 262.0C99.0 264.0 107.0 271.7 114.0 274.0C121.0 276.3 130.3 277.0 138.0 276.0C145.7 275.0 156.3 269.3 160.0 268.0" fill="none" stroke="#c07c14" stroke-width="2.6" stroke-linecap="round" stroke-linejoin="round" opacity="0.6"/>
<path d="M89.0 240.0C89.5 242.2 91.8 248.3 92.0 253.0C92.2 257.7 90.7 262.8 90.0 268.0C89.3 273.2 88.0 278.7 88.0 284.0C88.0 289.3 89.0 295.0 90.0 300.0C91.0 305.0 93.3 311.7 94.0 314.0" fill="none" stroke="#c81a14" stroke-width="3.0" stroke-linecap="round" stroke-linejoin="round"/>
<path d="M92.0 253.0C90.0 254.5 84.3 260.5 80.0 262.0C75.7 263.5 70.0 263.0 66.0 262.0C62.0 261.0 59.0 258.0 56.0 256.0C53.0 254.0 49.3 251.0 48.0 250.0" fill="none" stroke="#c81a14" stroke-width="1.9" stroke-linecap="round" stroke-linejoin="round"/>
<path d="M90.0 262.0C89.0 263.3 87.3 267.0 84.0 270.0C80.7 273.0 74.7 277.7 70.0 280.0C65.3 282.3 59.7 281.3 56.0 284.0C52.3 286.7 49.3 294.0 48.0 296.0" fill="none" stroke="#c81a14" stroke-width="1.9" stroke-linecap="round" stroke-linejoin="round"/>
<path d="M89.0 272.0C88.5 273.7 87.8 278.0 86.0 282.0C84.2 286.0 81.7 292.0 78.0 296.0C74.3 300.0 67.7 303.0 64.0 306.0C60.3 309.0 57.3 312.7 56.0 314.0" fill="none" stroke="#c81a14" stroke-width="1.8" stroke-linecap="round" stroke-linejoin="round"/>
<path d="M88.0 284.0C87.7 286.3 87.0 294.0 86.0 298.0C85.0 302.0 83.3 304.7 82.0 308.0C80.7 311.3 78.7 316.3 78.0 318.0" fill="none" stroke="#c81a14" stroke-width="1.7" stroke-linecap="round" stroke-linejoin="round"/>
<path d="M92.0 253.0C93.3 255.5 96.0 263.8 100.0 268.0C104.0 272.2 110.0 276.0 116.0 278.0C122.0 280.0 129.3 281.7 136.0 280.0C142.7 278.3 151.0 271.0 156.0 268.0C161.0 265.0 164.3 263.0 166.0 262.0" fill="none" stroke="#c81a14" stroke-width="2.0" stroke-linecap="round" stroke-linejoin="round"/>
<path d="M91.0 264.0C92.2 266.3 94.5 273.7 98.0 278.0C101.5 282.3 106.3 287.3 112.0 290.0C117.7 292.7 125.7 294.7 132.0 294.0C138.3 293.3 147.0 287.3 150.0 286.0" fill="none" stroke="#c81a14" stroke-width="1.9" stroke-linecap="round" stroke-linejoin="round"/>
<path d="M90.0 274.0C91.0 276.0 93.3 281.7 96.0 286.0C98.7 290.3 102.0 296.7 106.0 300.0C110.0 303.3 115.0 305.7 120.0 306.0C125.0 306.3 133.3 302.7 136.0 302.0" fill="none" stroke="#c81a14" stroke-width="1.8" stroke-linecap="round" stroke-linejoin="round"/>
<path d="M90.0 290.0C91.7 292.3 97.0 300.0 100.0 304.0C103.0 308.0 106.0 311.3 108.0 314.0C110.0 316.7 111.3 319.0 112.0 320.0" fill="none" stroke="#c81a14" stroke-width="1.6" stroke-linecap="round" stroke-linejoin="round"/>
<path d="M92.0 253.0C94.0 253.5 100.7 254.5 104.0 256.0C107.3 257.5 109.3 261.0 112.0 262.0C114.7 263.0 118.7 262.0 120.0 262.0" fill="none" stroke="#c81a14" stroke-width="1.6" stroke-linecap="round" stroke-linejoin="round"/>
<path d="M66.0 262.0C65.3 263.3 64.3 268.0 62.0 270.0C59.7 272.0 53.7 273.3 52.0 274.0" fill="none" stroke="#c81a14" stroke-width="1.3" stroke-linecap="round" stroke-linejoin="round"/>
<path d="M70.0 280.0C69.3 281.7 68.0 287.0 66.0 290.0C64.0 293.0 59.3 296.7 58.0 298.0" fill="none" stroke="#c81a14" stroke-width="1.3" stroke-linecap="round" stroke-linejoin="round"/>
<path d="M78.0 296.0C77.3 297.7 76.0 302.7 74.0 306.0C72.0 309.3 67.3 314.3 66.0 316.0" fill="none" stroke="#c81a14" stroke-width="1.3" stroke-linecap="round" stroke-linejoin="round"/>
<path d="M56.0 284.0C55.0 283.3 51.7 282.3 50.0 280.0C48.3 277.7 46.7 271.7 46.0 270.0" fill="none" stroke="#c81a14" stroke-width="1.2" stroke-linecap="round" stroke-linejoin="round"/>
<path d="M64.0 306.0C63.0 305.7 60.3 304.0 58.0 304.0C55.7 304.0 51.3 305.7 50.0 306.0" fill="none" stroke="#c81a14" stroke-width="1.2" stroke-linecap="round" stroke-linejoin="round"/>
<path d="M86.0 298.0C87.0 299.3 91.7 302.7 92.0 306.0C92.3 309.3 88.7 316.0 88.0 318.0" fill="none" stroke="#c81a14" stroke-width="1.2" stroke-linecap="round" stroke-linejoin="round"/>
<path d="M106.0 300.0C105.3 301.7 102.3 306.7 102.0 310.0C101.7 313.3 103.7 318.3 104.0 320.0" fill="none" stroke="#c81a14" stroke-width="1.2" stroke-linecap="round" stroke-linejoin="round"/>
<path d="M120.0 306.0C120.7 307.0 122.3 311.0 124.0 312.0C125.7 313.0 129.0 312.0 130.0 312.0" fill="none" stroke="#c81a14" stroke-width="1.2" stroke-linecap="round" stroke-linejoin="round"/>
<path d="M116.0 278.0C117.0 279.3 119.0 284.3 122.0 286.0C125.0 287.7 132.0 287.7 134.0 288.0" fill="none" stroke="#c81a14" stroke-width="1.2" stroke-linecap="round" stroke-linejoin="round"/>
<path d="M136.0 280.0C137.3 279.0 141.0 274.7 144.0 274.0C147.0 273.3 152.3 275.7 154.0 276.0" fill="none" stroke="#c81a14" stroke-width="1.2" stroke-linecap="round" stroke-linejoin="round"/>
<path d="M132.0 294.0C133.3 294.7 137.3 297.7 140.0 298.0C142.7 298.3 146.7 296.3 148.0 296.0" fill="none" stroke="#c81a14" stroke-width="1.2" stroke-linecap="round" stroke-linejoin="round"/>
<path d="M56.0 256.0C55.3 257.0 53.7 261.0 52.0 262.0C50.3 263.0 47.0 262.0 46.0 262.0" fill="none" stroke="#c81a14" stroke-width="1.1" stroke-linecap="round" stroke-linejoin="round"/>
<path d="M80.0 262.0C79.3 260.7 78.0 255.7 76.0 254.0C74.0 252.3 69.3 252.3 68.0 252.0" fill="none" stroke="#c81a14" stroke-width="1.1" stroke-linecap="round" stroke-linejoin="round"/>
<path d="M48.0 250.0C47.7 252.3 45.7 259.3 46.0 264.0C46.3 268.7 49.7 272.7 50.0 278.0C50.3 283.3 47.7 290.3 48.0 296.0C48.3 301.7 51.3 309.3 52.0 312.0" fill="none" stroke="#c81a14" stroke-width="1.5" stroke-linecap="round" stroke-linejoin="round"/>
<path d="M52.0 312.0C54.0 313.0 59.3 316.7 64.0 318.0C68.7 319.3 74.7 320.0 80.0 320.0C85.3 320.0 90.7 318.3 96.0 318.0C101.3 317.7 109.3 318.0 112.0 318.0" fill="none" stroke="#c81a14" stroke-width="1.4" stroke-linecap="round" stroke-linejoin="round"/>
<path d="M90.0 300.0C89.3 301.7 87.0 306.7 86.0 310.0C85.0 313.3 84.3 318.3 84.0 320.0" fill="none" stroke="#c81a14" stroke-width="1.2" stroke-linecap="round" stroke-linejoin="round"/>
<path d="M94.0 296.0C95.0 298.0 98.0 304.3 100.0 308.0C102.0 311.7 105.0 316.3 106.0 318.0" fill="none" stroke="#c81a14" stroke-width="1.2" stroke-linecap="round" stroke-linejoin="round"/>
<path d="M84.0 270.0C82.7 270.7 78.3 274.0 76.0 274.0C73.7 274.0 71.0 270.7 70.0 270.0" fill="none" stroke="#c81a14" stroke-width="1.1" stroke-linecap="round" stroke-linejoin="round"/>
<path d="M100.0 268.0C101.3 268.7 105.7 271.7 108.0 272.0C110.3 272.3 113.0 270.3 114.0 270.0" fill="none" stroke="#c81a14" stroke-width="1.1" stroke-linecap="round" stroke-linejoin="round"/>
<path d="M112.0 290.0C113.3 291.0 117.3 295.0 120.0 296.0C122.7 297.0 126.7 296.0 128.0 296.0" fill="none" stroke="#c81a14" stroke-width="1.1" stroke-linecap="round" stroke-linejoin="round"/>
<path d="M150.0 286.0C151.3 285.0 155.7 282.3 158.0 280.0C160.3 277.7 163.0 273.3 164.0 272.0" fill="none" stroke="#c81a14" stroke-width="1.2" stroke-linecap="round" stroke-linejoin="round"/>
<ellipse cx="157" cy="195" rx="16.5" ry="14" fill="#b4564e"/>
<ellipse cx="157" cy="195" rx="15.6" ry="13.1" fill="url(#hP)"/>
<path d="M165.0 200.0C165.8 201.8 168.2 206.9 169.5 210.5C170.8 214.1 172.0 217.8 173.0 221.5C174.0 225.2 174.8 229.1 175.5 233.0C176.2 236.9 176.6 241.0 177.0 245.0C177.4 249.0 177.8 253.0 178.0 257.0C178.2 261.0 178.5 265.0 178.5 269.0C178.5 273.0 178.2 277.2 178.0 281.0C177.8 284.8 177.5 288.5 177.0 292.0C176.5 295.5 175.3 300.3 175.0 302.0" fill="none" stroke="#e88070" stroke-width="14.0" stroke-linecap="round" stroke-linejoin="round"/>
<circle cx="168.0" cy="200.0" r="8.4" fill="#a84a40"/>
<circle cx="172.5" cy="210.5" r="8.4" fill="#a84a40"/>
<circle cx="176.0" cy="221.5" r="8.4" fill="#a84a40"/>
<circle cx="178.5" cy="233.0" r="8.4" fill="#a84a40"/>
<circle cx="180.0" cy="245.0" r="8.4" fill="#a84a40"/>
<circle cx="181.0" cy="257.0" r="8.4" fill="#a84a40"/>
<circle cx="181.5" cy="269.0" r="8.4" fill="#a84a40"/>
<circle cx="181.0" cy="281.0" r="8.4" fill="#a84a40"/>
<circle cx="180.0" cy="292.0" r="7.9" fill="#a84a40"/>
<circle cx="178.0" cy="302.0" r="7.4" fill="#a84a40"/>
<circle cx="168.0" cy="200.0" r="7.5" fill="url(#hPR)"/>
<circle cx="172.5" cy="210.5" r="7.5" fill="url(#hPR)"/>
<circle cx="176.0" cy="221.5" r="7.5" fill="url(#hPR)"/>
<circle cx="178.5" cy="233.0" r="7.5" fill="url(#hPR)"/>
<circle cx="180.0" cy="245.0" r="7.5" fill="url(#hPR)"/>
<circle cx="181.0" cy="257.0" r="7.5" fill="url(#hPR)"/>
<circle cx="181.5" cy="269.0" r="7.5" fill="url(#hPR)"/>
<circle cx="181.0" cy="281.0" r="7.5" fill="url(#hPR)"/>
<circle cx="180.0" cy="292.0" r="7.0" fill="url(#hPR)"/>
<circle cx="178.0" cy="302.0" r="6.5" fill="url(#hPR)"/>
<path d="M82.0 195.0C80.0 194.8 73.3 193.8 70.0 194.0C66.7 194.2 64.1 194.7 62.0 196.0C59.9 197.3 58.2 199.7 57.5 202.0C56.8 204.3 57.1 207.7 58.0 210.0C58.9 212.3 60.7 214.7 63.0 216.0C65.3 217.3 67.8 217.8 72.0 218.0C76.2 218.2 85.3 217.2 88.0 217.0" fill="none" stroke="#b86a62" stroke-width="13.9" stroke-linecap="butt" stroke-linejoin="round"/>
<path d="M82.0 195.0C80.0 194.8 73.3 193.8 70.0 194.0C66.7 194.2 64.1 194.7 62.0 196.0C59.9 197.3 58.2 199.7 57.5 202.0C56.8 204.3 57.1 207.7 58.0 210.0C58.9 212.3 60.7 214.7 63.0 216.0C65.3 217.3 67.8 217.8 72.0 218.0C76.2 218.2 85.3 217.2 88.0 217.0" fill="none" stroke="#e6927f" stroke-width="12.5" stroke-linecap="butt" stroke-linejoin="round"/>
<path d="M82.0 195.0C80.0 194.8 73.3 193.8 70.0 194.0C66.7 194.2 64.1 194.7 62.0 196.0C59.9 197.3 58.2 199.7 57.5 202.0C56.8 204.3 57.1 207.7 58.0 210.0C58.9 212.3 60.7 214.7 63.0 216.0C65.3 217.3 67.8 217.8 72.0 218.0C76.2 218.2 85.3 217.2 88.0 217.0" fill="none" stroke="#f4b0a2" stroke-width="9.8" stroke-linecap="butt" stroke-linejoin="round" transform="translate(-0.6 -0.6)" filter="url(#soft)"/>
<path d="M82.0 195.0C80.0 194.8 73.3 193.8 70.0 194.0C66.7 194.2 64.1 194.7 62.0 196.0C59.9 197.3 58.2 199.7 57.5 202.0C56.8 204.3 57.1 207.7 58.0 210.0C58.9 212.3 60.7 214.7 63.0 216.0C65.3 217.3 67.8 217.8 72.0 218.0C76.2 218.2 85.3 217.2 88.0 217.0" fill="none" stroke="#f8c4b8" stroke-width="5.8" stroke-linecap="butt" stroke-linejoin="round" transform="translate(-0.9 -1.0)" filter="url(#soft1)"/>
<path d="M82.0 195.0C80.0 194.8 73.3 193.8 70.0 194.0C66.7 194.2 64.1 194.7 62.0 196.0C59.9 197.3 58.2 199.7 57.5 202.0C56.8 204.3 57.1 207.7 58.0 210.0C58.9 212.3 60.7 214.7 63.0 216.0C65.3 217.3 67.8 217.8 72.0 218.0C76.2 218.2 85.3 217.2 88.0 217.0" fill="none" stroke="#fbd6cc" stroke-width="2.0" stroke-linecap="butt" stroke-linejoin="round" transform="translate(-1.3 -1.4)" opacity="0.9" filter="url(#soft)"/>
<path d="M91 127L105.5 127C109 131 111 134 113.6 135.5C118 131.5 124 130 130 130.5C138 132 143 140 144.8 152C146 165 145 180 140 191C134 202 122 209 110 210C100 210.5 90 209 82 206L76 202L74 187.5C84 186 93 183 99.5 178.5C105.5 174 108.2 168 108.2 160C108.4 153 107.5 147 106.4 141.8C103 136 97 131 91 127Z" fill="url(#stR)" stroke="#a85a50" stroke-width="0.9"/>
<path d="M122 131C135 130 143 140 144.5 154C146 168 144 182 138 194C141.5 178 141 160 138 148C135 139 130 134 122 131Z" fill="#cc6a5a" opacity="0.65" filter="url(#soft2)"/>
<path d="M80 204C92 209 108 210 124 205C112 205 98 204 84 198Z" fill="#e08a78" opacity="0.55" filter="url(#soft2)"/>
<path d="M119 142C126 152 127 170 120 184C113 195 100 199 88 198C102 193 111 185 114 172C116 160 116 150 119 142Z" fill="#fcdccc" opacity="0.5" filter="url(#soft2)"/>
<path d="M91 127L105.5 127C108 130 110 133 112 135L107 144C103 137 97 131 91 127Z" fill="#de6454"/>
<path d="M95 128L107 141M99.5 127.5L110 137.5" stroke="#f08a7a" stroke-width="1.1" fill="none" opacity="0.8"/>
<path d="M56 180L69 184" fill="none" stroke="#7a2a18" stroke-width="2.0" stroke-linecap="round" stroke-linejoin="round"/>
<path d="M22.5 172C22 166 28 163.5 34 165C42 167 50 174 56 178.5L64 181.5L56 182.5C48 184 38 183 30 180C25 178 22.8 175.5 22.5 172Z" fill="url(#gbR)" stroke="#2e3a10" stroke-width="0.6"/>
<path d="M27 169C31 166.5 37 168 42 171" fill="none" stroke="#c8b060" stroke-width="1.6" stroke-linecap="round" stroke-linejoin="round" opacity="0.6" filter="url(#soft)"/>
<path d="M70 171L72.5 177L73 186M75 170L73.5 177" fill="none" stroke="#2e6a24" stroke-width="1.6" stroke-linecap="round" stroke-linejoin="round"/>
<path d="M74 172L75 180L74.5 189L78 201L83 211M78.5 171L76 179M74.5 186L67 184.5" fill="none" stroke="#d41c1c" stroke-width="1.5" stroke-linecap="round" stroke-linejoin="round"/>
<path d="M78 203L83 208L88 214L89.5 224L89.5 238M84 209L78 206M86 212L94 210M88 217L81 221M89 224L96 222" fill="none" stroke="#d41c1c" stroke-width="1.6" stroke-linecap="round" stroke-linejoin="round"/>
<path d="M85 209L88.5 219L89.5 236" fill="none" stroke="#cc1a1a" stroke-width="3.0" stroke-linecap="round" stroke-linejoin="round"/>
<path d="M24.5 238.0C25.1 241.3 26.8 251.8 28.0 258.0C29.2 264.2 30.4 268.8 31.5 275.0C32.6 281.2 34.2 288.3 34.8 295.0C35.3 301.7 34.6 309.2 34.8 315.0C35.0 320.8 35.8 327.5 36.0 330.0" fill="none" stroke="#2a0810" stroke-width="30.0" stroke-linecap="butt" stroke-linejoin="round"/>
<path d="M24.5 238.0C25.1 241.3 26.8 251.8 28.0 258.0C29.2 264.2 30.4 268.8 31.5 275.0C32.6 281.2 34.2 288.3 34.8 295.0C35.3 301.7 34.6 309.2 34.8 315.0C35.0 320.8 35.8 327.5 36.0 330.0" fill="none" stroke="#6a2236" stroke-width="28.0" stroke-linecap="butt" stroke-linejoin="round"/>
<circle cx="34.7" cy="336.3" r="14" fill="#2a0810"/>
<circle cx="34.7" cy="336.3" r="13.2" fill="url(#hN)"/>
<circle cx="26.5" cy="326.0" r="9.0" fill="#4a1222"/>
<circle cx="25.8" cy="316.0" r="9.0" fill="#4a1222"/>
<circle cx="26.0" cy="304.5" r="9.0" fill="#4a1222"/>
<circle cx="26.2" cy="293.0" r="9.0" fill="#4a1222"/>
<circle cx="24.6" cy="281.5" r="9.0" fill="#4a1222"/>
<circle cx="21.6" cy="270.0" r="9.0" fill="#4a1222"/>
<circle cx="18.4" cy="258.5" r="9.0" fill="#4a1222"/>
<circle cx="16.4" cy="246.5" r="9.0" fill="#4a1222"/>
<circle cx="26.5" cy="326.0" r="8.3" fill="url(#hN)"/>
<circle cx="25.8" cy="316.0" r="8.3" fill="url(#hN)"/>
<circle cx="26.0" cy="304.5" r="8.3" fill="url(#hN)"/>
<circle cx="26.2" cy="293.0" r="8.3" fill="url(#hN)"/>
<circle cx="24.6" cy="281.5" r="8.3" fill="url(#hN)"/>
<circle cx="21.6" cy="270.0" r="8.3" fill="url(#hN)"/>
<circle cx="18.4" cy="258.5" r="8.3" fill="url(#hN)"/>
<circle cx="16.4" cy="246.5" r="8.3" fill="url(#hN)"/>
<circle cx="45.5" cy="325.0" r="7.9" fill="#4a1222"/>
<circle cx="43.5" cy="313.5" r="8.3" fill="#4a1222"/>
<circle cx="43.5" cy="301.0" r="8.3" fill="#4a1222"/>
<circle cx="42.8" cy="289.0" r="8.3" fill="#4a1222"/>
<circle cx="40.8" cy="277.5" r="8.3" fill="#4a1222"/>
<circle cx="38.6" cy="266.0" r="8.3" fill="#4a1222"/>
<circle cx="35.8" cy="254.0" r="8.3" fill="#4a1222"/>
<circle cx="45.5" cy="325.0" r="7.2" fill="url(#hN)"/>
<circle cx="43.5" cy="313.5" r="7.6" fill="url(#hN)"/>
<circle cx="43.5" cy="301.0" r="7.6" fill="url(#hN)"/>
<circle cx="42.8" cy="289.0" r="7.6" fill="url(#hN)"/>
<circle cx="40.8" cy="277.5" r="7.6" fill="url(#hN)"/>
<circle cx="38.6" cy="266.0" r="7.6" fill="url(#hN)"/>
<circle cx="35.8" cy="254.0" r="7.6" fill="url(#hN)"/>
<path d="M19.5 240.5C20.5 241.9 24.0 245.6 25.6 249.0C27.2 252.4 28.1 256.7 29.2 261.0C30.3 265.3 31.1 270.2 32.0 275.0C32.9 279.8 34.2 284.2 34.7 290.0C35.2 295.8 34.6 304.4 34.7 310.0C34.8 315.6 34.5 320.3 35.5 323.6C36.5 326.9 38.8 328.3 41.0 330.0C43.2 331.7 47.2 333.3 48.5 334.0" fill="none" stroke="#a08890" stroke-width="2.6" stroke-linecap="round" stroke-linejoin="round"/>
<path d="M51.0 336.0C51.8 336.9 54.9 339.9 55.8 341.4C56.7 342.9 56.1 343.7 56.5 345.0C56.9 346.3 58.1 348.3 58.4 349.0" fill="none" stroke="#d86050" stroke-width="2.8" stroke-linecap="round" stroke-linejoin="round"/>
<path d="M24.0 230.5C26.7 230.8 34.0 231.5 40.0 232.5C46.0 233.5 53.3 235.5 60.0 236.5C66.7 237.5 73.3 238.3 80.0 238.5C86.7 238.7 93.7 238.2 100.0 237.5C106.3 236.8 112.8 235.7 118.0 234.5C123.2 233.3 128.8 231.2 131.0 230.5" fill="none" stroke="#a8584e" stroke-width="31.0" stroke-linecap="round" stroke-linejoin="round"/>
<path d="M24.0 230.5C26.7 230.8 34.0 231.5 40.0 232.5C46.0 233.5 53.3 235.5 60.0 236.5C66.7 237.5 73.3 238.3 80.0 238.5C86.7 238.7 93.7 238.2 100.0 237.5C106.3 236.8 112.8 235.7 118.0 234.5C123.2 233.3 128.8 231.2 131.0 230.5" fill="none" stroke="#efa89a" stroke-width="29.4" stroke-linecap="round" stroke-linejoin="round"/>
<path d="M30.0 222.0C32.7 222.2 40.7 222.6 46.0 223.5C51.3 224.4 56.3 226.4 62.0 227.5C67.7 228.6 73.7 229.8 80.0 230.0C86.3 230.2 93.7 229.8 100.0 229.0C106.3 228.2 113.0 226.7 118.0 225.5C123.0 224.3 128.0 222.6 130.0 222.0" fill="none" stroke="#f6c6ba" stroke-width="7.0" stroke-linecap="round" stroke-linejoin="round" opacity="0.9" filter="url(#soft1)"/>
<path d="M22.0 227.0C24.7 227.3 32.7 228.2 38.0 229.0C43.3 229.8 48.7 231.2 54.0 232.0C59.3 232.8 64.7 233.6 70.0 234.0C75.3 234.4 80.7 234.7 86.0 234.5C91.3 234.3 96.7 233.8 102.0 233.0C107.3 232.2 113.2 231.1 118.0 230.0C122.8 228.9 128.8 227.1 131.0 226.5" fill="none" stroke="#d8c4be" stroke-width="1.8" stroke-linecap="round" stroke-linejoin="round" opacity="0.9"/>
<circle cx="132.0" cy="235.5" r="9.3" fill="#c07a6e"/>
<circle cx="121.0" cy="238.5" r="10.1" fill="#c07a6e"/>
<circle cx="107.0" cy="241.0" r="10.7" fill="#c07a6e"/>
<circle cx="91.0" cy="242.5" r="11.1" fill="#c07a6e"/>
<circle cx="74.0" cy="242.0" r="11.3" fill="#c07a6e"/>
<circle cx="56.0" cy="239.5" r="11.5" fill="#c07a6e"/>
<circle cx="132.0" cy="235.5" r="8.6" fill="url(#hP)"/>
<circle cx="121.0" cy="238.5" r="9.4" fill="url(#hP)"/>
<circle cx="107.0" cy="241.0" r="10.0" fill="url(#hP)"/>
<circle cx="91.0" cy="242.5" r="10.4" fill="url(#hP)"/>
<circle cx="74.0" cy="242.0" r="10.6" fill="url(#hP)"/>
<circle cx="56.0" cy="239.5" r="10.8" fill="url(#hP)"/>
<path d="M10 262C8 248 12 236 22 232C32 234 36 248 34 268C30 282 16 280 10 262Z" fill="#6a7030" opacity="0.55" filter="url(#soft2)"/>
<circle cx="56.0" cy="239.5" r="11.7" fill="#a8382c"/>
<circle cx="56.0" cy="239.5" r="10.8" fill="url(#hPR)"/>
<circle cx="38.0" cy="235.0" r="11.7" fill="#6a2418"/>
<circle cx="38.0" cy="235.0" r="10.8" fill="url(#hNr)"/>
<circle cx="22.0" cy="229.0" r="12.5" fill="#3a2a10"/>
<circle cx="22.0" cy="229.0" r="11.6" fill="url(#hNg)"/>
<path d="M26 222C32 222 40 226 44 232C38 230 32 230 27 232Z" fill="#d85a44" opacity="0.7" filter="url(#soft1)"/>
<path d="M90 344L113 344C113 356 110 368 106.5 378C105 381 100 381 98.5 378C95 368 91 356 90 344Z" fill="url(#rec)"/>
<path d="M97 348C98 360 100 370 102 378" fill="none" stroke="#f8a890" stroke-width="2.0" stroke-linecap="round" stroke-linejoin="round" opacity="0.7" filter="url(#soft)"/>
<path d="M47.4 315.0C49.6 313.7 56.2 313.7 60.7 313.9C65.2 314.1 70.4 316.6 74.1 316.0C77.8 315.4 80.3 313.4 82.9 310.6C85.5 307.8 86.5 302.7 89.5 299.4C92.5 296.1 97.0 292.8 100.7 290.6C104.4 288.4 107.7 287.5 111.8 286.0C115.9 284.5 121.1 283.0 125.2 281.7C129.3 280.4 132.2 278.7 136.3 278.3C140.4 277.9 145.1 279.9 149.5 279.4C153.9 278.8 158.5 276.2 162.9 275.0C167.3 273.8 171.6 270.9 176.0 272.0C180.4 273.1 187.6 277.5 189.5 281.7C191.4 285.9 188.9 290.9 187.4 297.2C185.9 303.5 183.3 312.4 180.7 319.4C178.1 326.4 174.8 334.6 171.8 339.4C168.8 344.2 165.1 344.2 162.9 348.3C160.7 352.4 161.1 360.0 158.5 363.9C155.9 367.8 151.5 369.7 147.4 371.7C143.3 373.7 138.2 375.4 134.1 376.0C130.0 376.6 126.6 376.3 122.9 375.0C119.2 373.7 114.4 370.9 111.8 368.3C109.2 365.7 109.2 362.3 107.4 359.4C105.6 356.4 103.7 352.1 100.7 350.6C97.7 349.1 93.6 351.4 89.5 350.6C85.4 349.8 80.0 348.6 76.3 346.0C72.6 343.4 68.9 337.9 67.4 335.0C65.9 332.1 68.9 330.0 67.4 328.3C65.9 326.6 61.8 326.1 58.5 325.0C55.2 323.9 49.2 323.4 47.4 321.7C45.5 320.0 45.2 316.3 47.4 315.0Z" fill="#822a44" stroke="#3a0c1a" stroke-width="1"/>
<path d="M112.7 198.0C112.7 194.2 112.1 195.8 113.7 193.9C115.3 192.0 118.2 188.0 122.1 186.6C125.9 185.2 133.1 185.0 136.8 185.5C140.5 186.0 141.8 189.2 144.2 189.7C146.6 190.2 148.9 188.0 151.5 188.7C154.1 189.4 157.1 190.6 159.9 193.9C162.7 197.2 166.2 203.7 168.3 208.6C170.4 213.5 170.8 219.1 172.5 223.3C174.2 227.5 177.4 230.3 178.8 233.8C180.2 237.3 180.7 240.6 180.9 244.3C181.1 248.0 179.7 251.7 180.0 256.0C180.3 260.3 183.0 265.3 183.0 270.0C183.0 274.7 183.8 281.3 180.0 284.0C176.2 286.7 166.7 286.3 160.0 286.0C153.3 285.7 144.3 284.3 140.0 282.0C135.7 279.7 137.3 273.0 134.0 272.0C130.7 271.0 124.4 275.5 120.0 275.8C115.6 276.1 110.6 275.4 107.4 273.7C104.2 271.9 101.4 267.8 101.1 265.3C100.8 262.9 103.2 261.1 105.3 259.0C107.4 256.9 112.0 256.2 113.7 252.7C115.5 249.2 115.8 243.9 115.8 238.0C115.8 232.1 114.2 223.7 113.7 217.0C113.2 210.3 112.7 201.8 112.7 198.0Z" fill="#822a44" stroke="#3a0c1a" stroke-width="1"/>
<path d="M162.9 283.9C165.2 283.7 172.8 281.1 176.3 282.8C179.8 284.4 183.3 289.6 184.1 293.9C184.8 298.1 182.6 303.3 180.7 308.3C178.9 313.3 175.4 319.1 172.9 323.9C170.5 328.7 167.4 335.0 166.3 337.2" fill="none" stroke="#3a0c1a" stroke-width="16.4" stroke-linecap="round" stroke-linejoin="round"/>
<path d="M162.9 283.9C165.2 283.7 172.8 281.1 176.3 282.8C179.8 284.4 183.3 289.6 184.1 293.9C184.8 298.1 182.6 303.3 180.7 308.3C178.9 313.3 175.4 319.1 172.9 323.9C170.5 328.7 167.4 335.0 166.3 337.2" fill="none" stroke="#742440" stroke-width="15.0" stroke-linecap="round" stroke-linejoin="round"/>
<path d="M162.9 283.9C165.2 283.7 172.8 281.1 176.3 282.8C179.8 284.4 183.3 289.6 184.1 293.9C184.8 298.1 182.6 303.3 180.7 308.3C178.9 313.3 175.4 319.1 172.9 323.9C170.5 328.7 167.4 335.0 166.3 337.2" fill="none" stroke="#98324e" stroke-width="11.7" stroke-linecap="round" stroke-linejoin="round" transform="translate(-1.0 -1.1)" filter="url(#soft)"/>
<path d="M162.9 283.9C165.2 283.7 172.8 281.1 176.3 282.8C179.8 284.4 183.3 289.6 184.1 293.9C184.8 298.1 182.6 303.3 180.7 308.3C178.9 313.3 175.4 319.1 172.9 323.9C170.5 328.7 167.4 335.0 166.3 337.2" fill="none" stroke="#aa4a66" stroke-width="6.9" stroke-linecap="round" stroke-linejoin="round" transform="translate(-1.6 -1.8)" filter="url(#soft1)"/>
<path d="M162.9 283.9C165.2 283.7 172.8 281.1 176.3 282.8C179.8 284.4 183.3 289.6 184.1 293.9C184.8 298.1 182.6 303.3 180.7 308.3C178.9 313.3 175.4 319.1 172.9 323.9C170.5 328.7 167.4 335.0 166.3 337.2" fill="none" stroke="#e6c0ca" stroke-width="3.6" stroke-linecap="round" stroke-linejoin="round" transform="translate(-2.2 -2.5)" opacity="0.6" filter="url(#soft1)" stroke-dasharray="10 7 5 9 13 8"/>
<path d="M162.9 283.9C165.2 283.7 172.8 281.1 176.3 282.8C179.8 284.4 183.3 289.6 184.1 293.9C184.8 298.1 182.6 303.3 180.7 308.3C178.9 313.3 175.4 319.1 172.9 323.9C170.5 328.7 167.4 335.0 166.3 337.2" fill="none" stroke="#f6e4e8" stroke-width="1.5" stroke-linecap="round" stroke-linejoin="round" transform="translate(-2.6 -3.1)" opacity="0.75" filter="url(#soft)" stroke-dasharray="3 15 2 19 4 12"/>
<path d="M127.4 289.4C129.2 288.9 134.8 285.6 138.5 286.1C142.2 286.7 147.0 289.8 149.6 292.8C152.2 295.7 154.4 300.2 154.1 303.9C153.7 307.6 150.7 312.8 147.4 315.0C144.1 317.2 137.4 318.3 134.1 317.2C130.7 316.1 128.5 309.8 127.4 308.3" fill="none" stroke="#3a0c1a" stroke-width="16.4" stroke-linecap="round" stroke-linejoin="round"/>
<path d="M127.4 289.4C129.2 288.9 134.8 285.6 138.5 286.1C142.2 286.7 147.0 289.8 149.6 292.8C152.2 295.7 154.4 300.2 154.1 303.9C153.7 307.6 150.7 312.8 147.4 315.0C144.1 317.2 137.4 318.3 134.1 317.2C130.7 316.1 128.5 309.8 127.4 308.3" fill="none" stroke="#742440" stroke-width="15.0" stroke-linecap="round" stroke-linejoin="round"/>
<path d="M127.4 289.4C129.2 288.9 134.8 285.6 138.5 286.1C142.2 286.7 147.0 289.8 149.6 292.8C152.2 295.7 154.4 300.2 154.1 303.9C153.7 307.6 150.7 312.8 147.4 315.0C144.1 317.2 137.4 318.3 134.1 317.2C130.7 316.1 128.5 309.8 127.4 308.3" fill="none" stroke="#98324e" stroke-width="11.7" stroke-linecap="round" stroke-linejoin="round" transform="translate(-1.0 -1.1)" filter="url(#soft)"/>
<path d="M127.4 289.4C129.2 288.9 134.8 285.6 138.5 286.1C142.2 286.7 147.0 289.8 149.6 292.8C152.2 295.7 154.4 300.2 154.1 303.9C153.7 307.6 150.7 312.8 147.4 315.0C144.1 317.2 137.4 318.3 134.1 317.2C130.7 316.1 128.5 309.8 127.4 308.3" fill="none" stroke="#aa4a66" stroke-width="6.9" stroke-linecap="round" stroke-linejoin="round" transform="translate(-1.6 -1.8)" filter="url(#soft1)"/>
<path d="M127.4 289.4C129.2 288.9 134.8 285.6 138.5 286.1C142.2 286.7 147.0 289.8 149.6 292.8C152.2 295.7 154.4 300.2 154.1 303.9C153.7 307.6 150.7 312.8 147.4 315.0C144.1 317.2 137.4 318.3 134.1 317.2C130.7 316.1 128.5 309.8 127.4 308.3" fill="none" stroke="#e6c0ca" stroke-width="3.6" stroke-linecap="round" stroke-linejoin="round" transform="translate(-2.2 -2.5)" opacity="0.6" filter="url(#soft1)" stroke-dasharray="10 7 5 9 13 8"/>
<path d="M127.4 289.4C129.2 288.9 134.8 285.6 138.5 286.1C142.2 286.7 147.0 289.8 149.6 292.8C152.2 295.7 154.4 300.2 154.1 303.9C153.7 307.6 150.7 312.8 147.4 315.0C144.1 317.2 137.4 318.3 134.1 317.2C130.7 316.1 128.5 309.8 127.4 308.3" fill="none" stroke="#f6e4e8" stroke-width="1.5" stroke-linecap="round" stroke-linejoin="round" transform="translate(-2.6 -3.1)" opacity="0.75" filter="url(#soft)" stroke-dasharray="3 15 2 19 4 12"/>
<path d="M91.8 308.3C93.7 306.9 99.2 301.9 102.9 299.4C106.6 297.0 112.4 292.8 114.1 293.9C115.7 295.0 115.0 302.6 112.9 306.1C110.9 309.6 103.7 313.5 101.8 315.0" fill="none" stroke="#3a0c1a" stroke-width="15.4" stroke-linecap="round" stroke-linejoin="round"/>
<path d="M91.8 308.3C93.7 306.9 99.2 301.9 102.9 299.4C106.6 297.0 112.4 292.8 114.1 293.9C115.7 295.0 115.0 302.6 112.9 306.1C110.9 309.6 103.7 313.5 101.8 315.0" fill="none" stroke="#742440" stroke-width="14.0" stroke-linecap="round" stroke-linejoin="round"/>
<path d="M91.8 308.3C93.7 306.9 99.2 301.9 102.9 299.4C106.6 297.0 112.4 292.8 114.1 293.9C115.7 295.0 115.0 302.6 112.9 306.1C110.9 309.6 103.7 313.5 101.8 315.0" fill="none" stroke="#98324e" stroke-width="10.9" stroke-linecap="round" stroke-linejoin="round" transform="translate(-1.0 -1.1)" filter="url(#soft)"/>
<path d="M91.8 308.3C93.7 306.9 99.2 301.9 102.9 299.4C106.6 297.0 112.4 292.8 114.1 293.9C115.7 295.0 115.0 302.6 112.9 306.1C110.9 309.6 103.7 313.5 101.8 315.0" fill="none" stroke="#aa4a66" stroke-width="6.4" stroke-linecap="round" stroke-linejoin="round" transform="translate(-1.6 -1.8)" filter="url(#soft1)"/>
<path d="M91.8 308.3C93.7 306.9 99.2 301.9 102.9 299.4C106.6 297.0 112.4 292.8 114.1 293.9C115.7 295.0 115.0 302.6 112.9 306.1C110.9 309.6 103.7 313.5 101.8 315.0" fill="none" stroke="#e6c0ca" stroke-width="3.4" stroke-linecap="round" stroke-linejoin="round" transform="translate(-2.2 -2.5)" opacity="0.6" filter="url(#soft1)" stroke-dasharray="10 7 5 9 13 8"/>
<path d="M91.8 308.3C93.7 306.9 99.2 301.9 102.9 299.4C106.6 297.0 112.4 292.8 114.1 293.9C115.7 295.0 115.0 302.6 112.9 306.1C110.9 309.6 103.7 313.5 101.8 315.0" fill="none" stroke="#f6e4e8" stroke-width="1.4" stroke-linecap="round" stroke-linejoin="round" transform="translate(-2.6 -3.1)" opacity="0.75" filter="url(#soft)" stroke-dasharray="3 15 2 19 4 12"/>
<path d="M122.9 332.8C124.8 332.4 130.4 329.8 134.1 330.6C137.8 331.3 142.2 334.3 145.2 337.2C148.1 340.2 151.1 344.6 151.8 348.3C152.6 352.0 151.8 356.7 149.6 359.4C147.4 362.2 140.4 364.1 138.5 365.0" fill="none" stroke="#3a0c1a" stroke-width="16.4" stroke-linecap="round" stroke-linejoin="round"/>
<path d="M122.9 332.8C124.8 332.4 130.4 329.8 134.1 330.6C137.8 331.3 142.2 334.3 145.2 337.2C148.1 340.2 151.1 344.6 151.8 348.3C152.6 352.0 151.8 356.7 149.6 359.4C147.4 362.2 140.4 364.1 138.5 365.0" fill="none" stroke="#742440" stroke-width="15.0" stroke-linecap="round" stroke-linejoin="round"/>
<path d="M122.9 332.8C124.8 332.4 130.4 329.8 134.1 330.6C137.8 331.3 142.2 334.3 145.2 337.2C148.1 340.2 151.1 344.6 151.8 348.3C152.6 352.0 151.8 356.7 149.6 359.4C147.4 362.2 140.4 364.1 138.5 365.0" fill="none" stroke="#98324e" stroke-width="11.7" stroke-linecap="round" stroke-linejoin="round" transform="translate(-1.0 -1.1)" filter="url(#soft)"/>
<path d="M122.9 332.8C124.8 332.4 130.4 329.8 134.1 330.6C137.8 331.3 142.2 334.3 145.2 337.2C148.1 340.2 151.1 344.6 151.8 348.3C152.6 352.0 151.8 356.7 149.6 359.4C147.4 362.2 140.4 364.1 138.5 365.0" fill="none" stroke="#aa4a66" stroke-width="6.9" stroke-linecap="round" stroke-linejoin="round" transform="translate(-1.6 -1.8)" filter="url(#soft1)"/>
<path d="M122.9 332.8C124.8 332.4 130.4 329.8 134.1 330.6C137.8 331.3 142.2 334.3 145.2 337.2C148.1 340.2 151.1 344.6 151.8 348.3C152.6 352.0 151.8 356.7 149.6 359.4C147.4 362.2 140.4 364.1 138.5 365.0" fill="none" stroke="#e6c0ca" stroke-width="3.6" stroke-linecap="round" stroke-linejoin="round" transform="translate(-2.2 -2.5)" opacity="0.6" filter="url(#soft1)" stroke-dasharray="10 7 5 9 13 8"/>
<path d="M122.9 332.8C124.8 332.4 130.4 329.8 134.1 330.6C137.8 331.3 142.2 334.3 145.2 337.2C148.1 340.2 151.1 344.6 151.8 348.3C152.6 352.0 151.8 356.7 149.6 359.4C147.4 362.2 140.4 364.1 138.5 365.0" fill="none" stroke="#f6e4e8" stroke-width="1.5" stroke-linecap="round" stroke-linejoin="round" transform="translate(-2.6 -3.1)" opacity="0.75" filter="url(#soft)" stroke-dasharray="3 15 2 19 4 12"/>
<path d="M105.2 341.7C106.3 343.9 108.9 351.3 111.8 355.0C114.8 358.7 119.2 361.5 122.9 363.9C126.6 366.3 132.2 368.5 134.1 369.4" fill="none" stroke="#3a0c1a" stroke-width="15.4" stroke-linecap="round" stroke-linejoin="round"/>
<path d="M105.2 341.7C106.3 343.9 108.9 351.3 111.8 355.0C114.8 358.7 119.2 361.5 122.9 363.9C126.6 366.3 132.2 368.5 134.1 369.4" fill="none" stroke="#742440" stroke-width="14.0" stroke-linecap="round" stroke-linejoin="round"/>
<path d="M105.2 341.7C106.3 343.9 108.9 351.3 111.8 355.0C114.8 358.7 119.2 361.5 122.9 363.9C126.6 366.3 132.2 368.5 134.1 369.4" fill="none" stroke="#98324e" stroke-width="10.9" stroke-linecap="round" stroke-linejoin="round" transform="translate(-1.0 -1.1)" filter="url(#soft)"/>
<path d="M105.2 341.7C106.3 343.9 108.9 351.3 111.8 355.0C114.8 358.7 119.2 361.5 122.9 363.9C126.6 366.3 132.2 368.5 134.1 369.4" fill="none" stroke="#aa4a66" stroke-width="6.4" stroke-linecap="round" stroke-linejoin="round" transform="translate(-1.6 -1.8)" filter="url(#soft1)"/>
<path d="M105.2 341.7C106.3 343.9 108.9 351.3 111.8 355.0C114.8 358.7 119.2 361.5 122.9 363.9C126.6 366.3 132.2 368.5 134.1 369.4" fill="none" stroke="#e6c0ca" stroke-width="3.4" stroke-linecap="round" stroke-linejoin="round" transform="translate(-2.2 -2.5)" opacity="0.6" filter="url(#soft1)" stroke-dasharray="10 7 5 9 13 8"/>
<path d="M105.2 341.7C106.3 343.9 108.9 351.3 111.8 355.0C114.8 358.7 119.2 361.5 122.9 363.9C126.6 366.3 132.2 368.5 134.1 369.4" fill="none" stroke="#f6e4e8" stroke-width="1.4" stroke-linecap="round" stroke-linejoin="round" transform="translate(-2.6 -3.1)" opacity="0.75" filter="url(#soft)" stroke-dasharray="3 15 2 19 4 12"/>
<path d="M76.3 335.0C78.1 336.1 83.7 339.8 87.4 341.7C91.1 343.5 96.6 345.4 98.5 346.1" fill="none" stroke="#3a0c1a" stroke-width="14.4" stroke-linecap="round" stroke-linejoin="round"/>
<path d="M76.3 335.0C78.1 336.1 83.7 339.8 87.4 341.7C91.1 343.5 96.6 345.4 98.5 346.1" fill="none" stroke="#742440" stroke-width="13.0" stroke-linecap="round" stroke-linejoin="round"/>
<path d="M76.3 335.0C78.1 336.1 83.7 339.8 87.4 341.7C91.1 343.5 96.6 345.4 98.5 346.1" fill="none" stroke="#98324e" stroke-width="10.1" stroke-linecap="round" stroke-linejoin="round" transform="translate(-1.0 -1.1)" filter="url(#soft)"/>
<path d="M76.3 335.0C78.1 336.1 83.7 339.8 87.4 341.7C91.1 343.5 96.6 345.4 98.5 346.1" fill="none" stroke="#aa4a66" stroke-width="6.0" stroke-linecap="round" stroke-linejoin="round" transform="translate(-1.6 -1.8)" filter="url(#soft1)"/>
<path d="M76.3 335.0C78.1 336.1 83.7 339.8 87.4 341.7C91.1 343.5 96.6 345.4 98.5 346.1" fill="none" stroke="#e6c0ca" stroke-width="3.1" stroke-linecap="round" stroke-linejoin="round" transform="translate(-2.2 -2.5)" opacity="0.6" filter="url(#soft1)" stroke-dasharray="10 7 5 9 13 8"/>
<path d="M76.3 335.0C78.1 336.1 83.7 339.8 87.4 341.7C91.1 343.5 96.6 345.4 98.5 346.1" fill="none" stroke="#f6e4e8" stroke-width="1.3" stroke-linecap="round" stroke-linejoin="round" transform="translate(-2.6 -3.1)" opacity="0.75" filter="url(#soft)" stroke-dasharray="3 15 2 19 4 12"/>
<path d="M49.6 318.3C51.5 318.3 56.3 317.6 60.7 318.3C65.2 319.1 71.1 320.7 76.3 322.8C81.5 324.8 87.0 328.9 91.8 330.6C96.6 332.2 101.1 333.3 105.2 332.8C109.2 332.2 114.4 328.1 116.3 327.2" fill="none" stroke="#3a0c1a" stroke-width="12.4" stroke-linecap="round" stroke-linejoin="round"/>
<path d="M49.6 318.3C51.5 318.3 56.3 317.6 60.7 318.3C65.2 319.1 71.1 320.7 76.3 322.8C81.5 324.8 87.0 328.9 91.8 330.6C96.6 332.2 101.1 333.3 105.2 332.8C109.2 332.2 114.4 328.1 116.3 327.2" fill="none" stroke="#742440" stroke-width="11.0" stroke-linecap="round" stroke-linejoin="round"/>
<path d="M49.6 318.3C51.5 318.3 56.3 317.6 60.7 318.3C65.2 319.1 71.1 320.7 76.3 322.8C81.5 324.8 87.0 328.9 91.8 330.6C96.6 332.2 101.1 333.3 105.2 332.8C109.2 332.2 114.4 328.1 116.3 327.2" fill="none" stroke="#98324e" stroke-width="8.6" stroke-linecap="round" stroke-linejoin="round" transform="translate(-1.0 -1.1)" filter="url(#soft)"/>
<path d="M49.6 318.3C51.5 318.3 56.3 317.6 60.7 318.3C65.2 319.1 71.1 320.7 76.3 322.8C81.5 324.8 87.0 328.9 91.8 330.6C96.6 332.2 101.1 333.3 105.2 332.8C109.2 332.2 114.4 328.1 116.3 327.2" fill="none" stroke="#aa4a66" stroke-width="5.1" stroke-linecap="round" stroke-linejoin="round" transform="translate(-1.6 -1.8)" filter="url(#soft1)"/>
<path d="M49.6 318.3C51.5 318.3 56.3 317.6 60.7 318.3C65.2 319.1 71.1 320.7 76.3 322.8C81.5 324.8 87.0 328.9 91.8 330.6C96.6 332.2 101.1 333.3 105.2 332.8C109.2 332.2 114.4 328.1 116.3 327.2" fill="none" stroke="#e6c0ca" stroke-width="2.6" stroke-linecap="round" stroke-linejoin="round" transform="translate(-2.2 -2.5)" opacity="0.6" filter="url(#soft1)" stroke-dasharray="10 7 5 9 13 8"/>
<path d="M49.6 318.3C51.5 318.3 56.3 317.6 60.7 318.3C65.2 319.1 71.1 320.7 76.3 322.8C81.5 324.8 87.0 328.9 91.8 330.6C96.6 332.2 101.1 333.3 105.2 332.8C109.2 332.2 114.4 328.1 116.3 327.2" fill="none" stroke="#f6e4e8" stroke-width="1.1" stroke-linecap="round" stroke-linejoin="round" transform="translate(-2.6 -3.1)" opacity="0.75" filter="url(#soft)" stroke-dasharray="3 15 2 19 4 12"/>
<path d="M176.7 259.0C176.2 260.8 175.0 266.0 173.6 269.5C172.2 273.0 169.2 278.3 168.3 280.0" fill="none" stroke="#3a0c1a" stroke-width="16.4" stroke-linecap="round" stroke-linejoin="round"/>
<path d="M176.7 259.0C176.2 260.8 175.0 266.0 173.6 269.5C172.2 273.0 169.2 278.3 168.3 280.0" fill="none" stroke="#742440" stroke-width="15.0" stroke-linecap="round" stroke-linejoin="round"/>
<path d="M176.7 259.0C176.2 260.8 175.0 266.0 173.6 269.5C172.2 273.0 169.2 278.3 168.3 280.0" fill="none" stroke="#98324e" stroke-width="11.7" stroke-linecap="round" stroke-linejoin="round" transform="translate(-1.0 -1.1)" filter="url(#soft)"/>
<path d="M176.7 259.0C176.2 260.8 175.0 266.0 173.6 269.5C172.2 273.0 169.2 278.3 168.3 280.0" fill="none" stroke="#aa4a66" stroke-width="6.9" stroke-linecap="round" stroke-linejoin="round" transform="translate(-1.6 -1.8)" filter="url(#soft1)"/>
<path d="M176.7 259.0C176.2 260.8 175.0 266.0 173.6 269.5C172.2 273.0 169.2 278.3 168.3 280.0" fill="none" stroke="#e6c0ca" stroke-width="3.6" stroke-linecap="round" stroke-linejoin="round" transform="translate(-2.2 -2.5)" opacity="0.6" filter="url(#soft1)" stroke-dasharray="10 7 5 9 13 8"/>
<path d="M176.7 259.0C176.2 260.8 175.0 266.0 173.6 269.5C172.2 273.0 169.2 278.3 168.3 280.0" fill="none" stroke="#f6e4e8" stroke-width="1.5" stroke-linecap="round" stroke-linejoin="round" transform="translate(-2.6 -3.1)" opacity="0.75" filter="url(#soft)" stroke-dasharray="3 15 2 19 4 12"/>
<path d="M147.3 193.9C148.7 194.3 153.3 193.6 155.7 196.0C158.2 198.5 160.5 204.6 162.0 208.6C163.6 212.6 164.7 218.2 165.2 220.2" fill="none" stroke="#3a0c1a" stroke-width="16.4" stroke-linecap="round" stroke-linejoin="round"/>
<path d="M147.3 193.9C148.7 194.3 153.3 193.6 155.7 196.0C158.2 198.5 160.5 204.6 162.0 208.6C163.6 212.6 164.7 218.2 165.2 220.2" fill="none" stroke="#742440" stroke-width="15.0" stroke-linecap="round" stroke-linejoin="round"/>
<path d="M147.3 193.9C148.7 194.3 153.3 193.6 155.7 196.0C158.2 198.5 160.5 204.6 162.0 208.6C163.6 212.6 164.7 218.2 165.2 220.2" fill="none" stroke="#98324e" stroke-width="11.7" stroke-linecap="round" stroke-linejoin="round" transform="translate(-1.0 -1.1)" filter="url(#soft)"/>
<path d="M147.3 193.9C148.7 194.3 153.3 193.6 155.7 196.0C158.2 198.5 160.5 204.6 162.0 208.6C163.6 212.6 164.7 218.2 165.2 220.2" fill="none" stroke="#aa4a66" stroke-width="6.9" stroke-linecap="round" stroke-linejoin="round" transform="translate(-1.6 -1.8)" filter="url(#soft1)"/>
<path d="M147.3 193.9C148.7 194.3 153.3 193.6 155.7 196.0C158.2 198.5 160.5 204.6 162.0 208.6C163.6 212.6 164.7 218.2 165.2 220.2" fill="none" stroke="#e6c0ca" stroke-width="3.6" stroke-linecap="round" stroke-linejoin="round" transform="translate(-2.2 -2.5)" opacity="0.6" filter="url(#soft1)" stroke-dasharray="10 7 5 9 13 8"/>
<path d="M147.3 193.9C148.7 194.3 153.3 193.6 155.7 196.0C158.2 198.5 160.5 204.6 162.0 208.6C163.6 212.6 164.7 218.2 165.2 220.2" fill="none" stroke="#f6e4e8" stroke-width="1.5" stroke-linecap="round" stroke-linejoin="round" transform="translate(-2.6 -3.1)" opacity="0.75" filter="url(#soft)" stroke-dasharray="3 15 2 19 4 12"/>
<path d="M141.0 230.7C142.8 230.0 148.0 226.6 151.5 226.5C155.0 226.4 158.5 228.3 162.0 230.0C165.5 231.8 170.4 234.2 172.5 237.0C174.6 239.7 175.7 243.5 174.6 246.4C173.6 249.4 170.1 252.7 166.2 254.8C162.4 256.9 155.2 256.9 151.5 259.0C147.8 261.1 145.4 266.0 144.2 267.4" fill="none" stroke="#3a0c1a" stroke-width="16.4" stroke-linecap="round" stroke-linejoin="round"/>
<path d="M141.0 230.7C142.8 230.0 148.0 226.6 151.5 226.5C155.0 226.4 158.5 228.3 162.0 230.0C165.5 231.8 170.4 234.2 172.5 237.0C174.6 239.7 175.7 243.5 174.6 246.4C173.6 249.4 170.1 252.7 166.2 254.8C162.4 256.9 155.2 256.9 151.5 259.0C147.8 261.1 145.4 266.0 144.2 267.4" fill="none" stroke="#742440" stroke-width="15.0" stroke-linecap="round" stroke-linejoin="round"/>
<path d="M141.0 230.7C142.8 230.0 148.0 226.6 151.5 226.5C155.0 226.4 158.5 228.3 162.0 230.0C165.5 231.8 170.4 234.2 172.5 237.0C174.6 239.7 175.7 243.5 174.6 246.4C173.6 249.4 170.1 252.7 166.2 254.8C162.4 256.9 155.2 256.9 151.5 259.0C147.8 261.1 145.4 266.0 144.2 267.4" fill="none" stroke="#98324e" stroke-width="11.7" stroke-linecap="round" stroke-linejoin="round" transform="translate(-1.0 -1.1)" filter="url(#soft)"/>
<path d="M141.0 230.7C142.8 230.0 148.0 226.6 151.5 226.5C155.0 226.4 158.5 228.3 162.0 230.0C165.5 231.8 170.4 234.2 172.5 237.0C174.6 239.7 175.7 243.5 174.6 246.4C173.6 249.4 170.1 252.7 166.2 254.8C162.4 256.9 155.2 256.9 151.5 259.0C147.8 261.1 145.4 266.0 144.2 267.4" fill="none" stroke="#aa4a66" stroke-width="6.9" stroke-linecap="round" stroke-linejoin="round" transform="translate(-1.6 -1.8)" filter="url(#soft1)"/>
<path d="M141.0 230.7C142.8 230.0 148.0 226.6 151.5 226.5C155.0 226.4 158.5 228.3 162.0 230.0C165.5 231.8 170.4 234.2 172.5 237.0C174.6 239.7 175.7 243.5 174.6 246.4C173.6 249.4 170.1 252.7 166.2 254.8C162.4 256.9 155.2 256.9 151.5 259.0C147.8 261.1 145.4 266.0 144.2 267.4" fill="none" stroke="#e6c0ca" stroke-width="3.6" stroke-linecap="round" stroke-linejoin="round" transform="translate(-2.2 -2.5)" opacity="0.6" filter="url(#soft1)" stroke-dasharray="10 7 5 9 13 8"/>
<path d="M141.0 230.7C142.8 230.0 148.0 226.6 151.5 226.5C155.0 226.4 158.5 228.3 162.0 230.0C165.5 231.8 170.4 234.2 172.5 237.0C174.6 239.7 175.7 243.5 174.6 246.4C173.6 249.4 170.1 252.7 166.2 254.8C162.4 256.9 155.2 256.9 151.5 259.0C147.8 261.1 145.4 266.0 144.2 267.4" fill="none" stroke="#f6e4e8" stroke-width="1.5" stroke-linecap="round" stroke-linejoin="round" transform="translate(-2.6 -3.1)" opacity="0.75" filter="url(#soft)" stroke-dasharray="3 15 2 19 4 12"/>
<path d="M108.5 265.3C109.7 266.2 113.4 270.6 115.8 270.6C118.3 270.6 122.0 270.8 123.2 265.3C124.3 259.9 123.0 246.1 122.5 238.0C122.1 230.0 120.4 223.5 120.4 217.0C120.4 210.5 120.9 203.2 122.5 199.2C124.2 195.1 127.9 193.0 130.5 192.9C133.2 192.8 137.4 195.2 138.5 198.5C139.6 201.9 137.4 210.4 137.2 212.8" fill="none" stroke="#3a0c1a" stroke-width="18.4" stroke-linecap="round" stroke-linejoin="round"/>
<path d="M108.5 265.3C109.7 266.2 113.4 270.6 115.8 270.6C118.3 270.6 122.0 270.8 123.2 265.3C124.3 259.9 123.0 246.1 122.5 238.0C122.1 230.0 120.4 223.5 120.4 217.0C120.4 210.5 120.9 203.2 122.5 199.2C124.2 195.1 127.9 193.0 130.5 192.9C133.2 192.8 137.4 195.2 138.5 198.5C139.6 201.9 137.4 210.4 137.2 212.8" fill="none" stroke="#742440" stroke-width="17.0" stroke-linecap="round" stroke-linejoin="round"/>
<path d="M108.5 265.3C109.7 266.2 113.4 270.6 115.8 270.6C118.3 270.6 122.0 270.8 123.2 265.3C124.3 259.9 123.0 246.1 122.5 238.0C122.1 230.0 120.4 223.5 120.4 217.0C120.4 210.5 120.9 203.2 122.5 199.2C124.2 195.1 127.9 193.0 130.5 192.9C133.2 192.8 137.4 195.2 138.5 198.5C139.6 201.9 137.4 210.4 137.2 212.8" fill="none" stroke="#98324e" stroke-width="13.3" stroke-linecap="round" stroke-linejoin="round" transform="translate(-1.0 -1.1)" filter="url(#soft)"/>
<path d="M108.5 265.3C109.7 266.2 113.4 270.6 115.8 270.6C118.3 270.6 122.0 270.8 123.2 265.3C124.3 259.9 123.0 246.1 122.5 238.0C122.1 230.0 120.4 223.5 120.4 217.0C120.4 210.5 120.9 203.2 122.5 199.2C124.2 195.1 127.9 193.0 130.5 192.9C133.2 192.8 137.4 195.2 138.5 198.5C139.6 201.9 137.4 210.4 137.2 212.8" fill="none" stroke="#aa4a66" stroke-width="7.8" stroke-linecap="round" stroke-linejoin="round" transform="translate(-1.6 -1.8)" filter="url(#soft1)"/>
<path d="M108.5 265.3C109.7 266.2 113.4 270.6 115.8 270.6C118.3 270.6 122.0 270.8 123.2 265.3C124.3 259.9 123.0 246.1 122.5 238.0C122.1 230.0 120.4 223.5 120.4 217.0C120.4 210.5 120.9 203.2 122.5 199.2C124.2 195.1 127.9 193.0 130.5 192.9C133.2 192.8 137.4 195.2 138.5 198.5C139.6 201.9 137.4 210.4 137.2 212.8" fill="none" stroke="#e6c0ca" stroke-width="4.1" stroke-linecap="round" stroke-linejoin="round" transform="translate(-2.2 -2.5)" opacity="0.6" filter="url(#soft1)" stroke-dasharray="10 7 5 9 13 8"/>
<path d="M108.5 265.3C109.7 266.2 113.4 270.6 115.8 270.6C118.3 270.6 122.0 270.8 123.2 265.3C124.3 259.9 123.0 246.1 122.5 238.0C122.1 230.0 120.4 223.5 120.4 217.0C120.4 210.5 120.9 203.2 122.5 199.2C124.2 195.1 127.9 193.0 130.5 192.9C133.2 192.8 137.4 195.2 138.5 198.5C139.6 201.9 137.4 210.4 137.2 212.8" fill="none" stroke="#f6e4e8" stroke-width="1.7" stroke-linecap="round" stroke-linejoin="round" transform="translate(-2.6 -3.1)" opacity="0.75" filter="url(#soft)" stroke-dasharray="3 15 2 19 4 12"/>
</g>
</g>
<g id="bolts">
<path d="M23.4 56.3L36.6 51.7L37.5 66.1L35.4 67.0L39.5 79.1L37.5 79.8L40.9 99.2L29.7 81.2L32.3 80.3L26.3 69.5L29.4 68.3Z" fill="url(#bolt)" stroke="#e8201a" stroke-width="1" stroke-linejoin="miter" transform="translate(0.0 0.0)"/>
<path d="M23.4 56.3L36.6 51.7L37.5 66.1L35.4 67.0L39.5 79.1L37.5 79.8L40.9 99.2L29.7 81.2L32.3 80.3L26.3 69.5L29.4 68.3Z" fill="url(#bolt)" stroke="#e8201a" stroke-width="1" stroke-linejoin="miter" transform="translate(18.9 7.7)"/>
<path d="M23.2 56.3L36.8 51.7L36.3 66.1L34.1 67.0L37.0 79.1L34.9 79.8L36.4 99.2L27.0 81.2L29.7 80.3L24.8 69.5L28.0 68.3Z" fill="url(#bolt)" stroke="#e8201a" stroke-width="1" stroke-linejoin="miter" transform="translate(39.0 15.6)"/>
</g>

<!-- ===== centre diagram ===== -->
<g id="centre">
<path d="M209.7 64H793.3V53.3L815.6 75L793.3 96.8V86.2H209.7Z" fill="url(#gTime)" stroke="#2c426e" stroke-width="1.4" stroke-linejoin="miter"/>
<path d="M480.4 115H774.5L825.5 182L774.5 249H480.4L531.3 182Z" fill="url(#gLate)"/>
<path d="M209.5 115H480.4L531.3 182L480.4 249H209.5Z" fill="url(#gEarly)"/>
<path d="M480.4 115H209.6" fill="none" stroke="#b4b4b4" stroke-width="1"/>
<path d="M209.9 114.5V248.8H480.6" fill="none" stroke="#747474" stroke-width="1.5"/>
<path d="M210 278.3L821.5 377.6H210Z" fill="url(#gGR)"/>
<path d="M214 277.2H825.2V376.3Z" fill="url(#gRG)"/>
<path d="M209.5 445L255 400.3V423.2H781V400.3L826.3 445L781 489.8V467.5H255V489.8Z" fill="url(#gSurg)" stroke="#3b4a86" stroke-width="1.2"/>
</g>

<!-- ===== text ===== -->
<g id="labels" opacity="0.999">

<text class="lab" x="1.2" y="135.6" font-size="9.2" textLength="15.2" lengthAdjust="spacingAndGlyphs">Gall</text>
<text class="lab" x="1.2" y="146.7" font-size="9.2" textLength="31.8" lengthAdjust="spacingAndGlyphs">bladder</text>
<line x1="18.8" y1="149.8" x2="24.8" y2="164.7" stroke="#3a3a3a" stroke-width="0.9"/>
<text class="lab" x="39.0" y="129.8" font-size="9.2" textLength="34.3" lengthAdjust="spacingAndGlyphs">Superior</text>
<text class="lab" x="39.0" y="140.7" font-size="9.2" textLength="44.9" lengthAdjust="spacingAndGlyphs">mesenteric</text>
<text class="lab" x="39.0" y="151.6" font-size="9.2" textLength="24.0" lengthAdjust="spacingAndGlyphs">artery</text>
<line x1="48.5" y1="156.2" x2="88.5" y2="262.0" stroke="#3a3a3a" stroke-width="0.9"/>
<text class="lab" x="108.7" y="170.4" font-size="9.2" textLength="33.1" lengthAdjust="spacingAndGlyphs">Stomach</text>
<text class="lab" x="147.9" y="149.5" font-size="9.2" textLength="61.2" lengthAdjust="spacingAndGlyphs">Proximal small</text>
<text class="lab" x="147.9" y="160.5" font-size="9.2" textLength="36.0" lengthAdjust="spacingAndGlyphs">intestine</text>
<text class="lab" x="147.9" y="171.5" font-size="9.2" textLength="43.6" lengthAdjust="spacingAndGlyphs">(Jejunum)</text>
<line x1="177.6" y1="176.2" x2="160.5" y2="212.0" stroke="#3a3a3a" stroke-width="0.9"/>
<text class="lab" x="4.8" y="369.7" font-size="9.2" textLength="24.0" lengthAdjust="spacingAndGlyphs">Large</text>
<text class="lab" x="4.8" y="380.8" font-size="9.2" textLength="36.4" lengthAdjust="spacingAndGlyphs">intestine</text>
<text class="lab" x="4.8" y="391.9" font-size="9.2" textLength="31.6" lengthAdjust="spacingAndGlyphs">(Colon)</text>
<line x1="25.7" y1="345.5" x2="18.4" y2="361.6" stroke="#3a3a3a" stroke-width="0.9"/>
<text class="lab" x="134.8" y="375.5" font-size="9.2" textLength="48.6" lengthAdjust="spacingAndGlyphs">Distal small</text>
<text class="lab" x="134.8" y="386.6" font-size="9.2" textLength="36.1" lengthAdjust="spacingAndGlyphs">intestine</text>
<text class="lab" x="134.8" y="397.7" font-size="9.2" textLength="30.0" lengthAdjust="spacingAndGlyphs">(Ileum)</text>
<line x1="144.8" y1="367.4" x2="127.5" y2="333.0" stroke="#3a3a3a" stroke-width="0.9"/>
<text class="lab" x="826.9" y="127.9" font-size="9.2" textLength="35.2" lengthAdjust="spacingAndGlyphs">Necrotic</text>
<text class="lab" x="826.9" y="138.8" font-size="9.2" textLength="47.0" lengthAdjust="spacingAndGlyphs">gallbladder</text>
<line x1="846.1" y1="143.3" x2="854.8" y2="160.0" stroke="#3a3a3a" stroke-width="0.9"/>
<text class="lab" x="941.6" y="163.6" font-size="9.2" textLength="32.6" lengthAdjust="spacingAndGlyphs">Stomach</text>
<text class="lab" x="841.2" y="370.3" font-size="9.2" textLength="58.1" lengthAdjust="spacingAndGlyphs">Necrotic right</text>
<text class="lab" x="841.2" y="381.4" font-size="9.2" textLength="22.4" lengthAdjust="spacingAndGlyphs">colon</text>
<line x1="866.0" y1="347.5" x2="860.3" y2="361.2" stroke="#3a3a3a" stroke-width="0.9"/>
<text class="lab" x="960.4" y="393.6" font-size="9.2" textLength="59.9" lengthAdjust="spacingAndGlyphs">Necrotic small</text>
<text class="lab" x="960.4" y="404.6" font-size="9.2" textLength="36.6" lengthAdjust="spacingAndGlyphs">intestine</text>
<line x1="980.0" y1="366.4" x2="988.2" y2="383.0" stroke="#3a3a3a" stroke-width="0.9"/>

<text class="b t" x="83.9" y="13.9" font-size="15.5" textLength="55.3" lengthAdjust="spacingAndGlyphs">Trigger</text>
<text class="t" x="83.9" y="32.5" font-size="14" textLength="163.3" lengthAdjust="spacingAndGlyphs">Low cardiac output syndrome</text>
<text class="t" x="82.6" y="51.3" font-size="14" textLength="70.5" lengthAdjust="spacingAndGlyphs">Hypovolemia</text>
<text class="t" x="82.6" y="68.6" font-size="14" textLength="85.5" lengthAdjust="spacingAndGlyphs">Cardiac surgery</text>
<text class="t" x="82.6" y="85.9" font-size="14" textLength="76.4" lengthAdjust="spacingAndGlyphs">Cardiac arrest</text>
<text class="t" x="82.6" y="103.3" font-size="14" textLength="72.4" lengthAdjust="spacingAndGlyphs">Hemodialysis</text>
<text class="t" x="82.6" y="120.6" font-size="14" textLength="69" lengthAdjust="spacingAndGlyphs">Septic shock</text>

<text class="b w" x="492.5" y="78.9" font-size="15.5" textLength="37.1" lengthAdjust="spacingAndGlyphs">Time</text>
<text class="b t" x="883.3" y="78.9" font-size="15.5" textLength="44.7" lengthAdjust="spacingAndGlyphs">Death</text>

<text class="b t" x="221.9" y="137.6" font-size="15.5" textLength="88.9" lengthAdjust="spacingAndGlyphs">Early injury</text>
<text class="t" x="221.9" y="157.7" font-size="15.2" textLength="144.9" lengthAdjust="spacingAndGlyphs">Intestinal dysfunction</text>
<text class="t" x="221.9" y="177.3" font-size="15.2" textLength="165" lengthAdjust="spacingAndGlyphs">Epithelial barrier rupture</text>
<text class="t" x="221.9" y="196.9" font-size="15.2" textLength="148.7" lengthAdjust="spacingAndGlyphs">Bacterial translocation</text>
<text class="t" x="221.9" y="216.5" font-size="15.2" textLength="134.7" lengthAdjust="spacingAndGlyphs">Cytokine production</text>
<text class="t" x="221.9" y="236.1" font-size="15.2" textLength="152.7" lengthAdjust="spacingAndGlyphs">Microcirculatory failure</text>

<text class="b w" x="603.4" y="137.6" font-size="15.5" textLength="82.1" lengthAdjust="spacingAndGlyphs">Late injury</text>
<text class="w" x="603.4" y="157.7" font-size="15.2" textLength="157.6" lengthAdjust="spacingAndGlyphs">Full-thickness infarction</text>
<text class="w" x="603.4" y="177.3" font-size="15.2" textLength="72.9" lengthAdjust="spacingAndGlyphs">Perforation</text>
<text class="w" x="603.4" y="196.9" font-size="15.2" textLength="65.8" lengthAdjust="spacingAndGlyphs">Peritonitis</text>
<text class="w" x="603.4" y="216.5" font-size="15.2" textLength="117" lengthAdjust="spacingAndGlyphs">Multiorgan failure</text>
<text class="w" x="603.4" y="236.1" font-size="15.2" textLength="71" lengthAdjust="spacingAndGlyphs">Vasoplegia</text>

<text class="t" x="222" y="331.2" font-size="15.2" textLength="97.4" lengthAdjust="spacingAndGlyphs">Tissue viability</text>
<text class="t" x="222" y="350.7" font-size="15.2" textLength="188.9" lengthAdjust="spacingAndGlyphs">Potential for lesions reversal</text>
<text class="t" x="741" y="313.4" font-size="15.2" textLength="69.3" lengthAdjust="spacingAndGlyphs">Diagnostic</text>
<text class="t" x="741" y="333.2" font-size="15.2" textLength="65.4" lengthAdjust="spacingAndGlyphs">sensitivity</text>

<text class="t" x="226.2" y="450.2" font-size="15.2" textLength="60.6" lengthAdjust="spacingAndGlyphs">Too early</text>
<text class="t" x="462.6" y="441.4" font-size="15.2" textLength="137.4" lengthAdjust="spacingAndGlyphs">Surgical intervention</text>
<text class="t" x="462.6" y="460.9" font-size="15.2" textLength="76.3" lengthAdjust="spacingAndGlyphs">indication ?</text>
<text class="t" x="752.2" y="449.7" font-size="15.2" textLength="52.7" lengthAdjust="spacingAndGlyphs">Too late</text>
</g>
</svg>
</body>
</html>
